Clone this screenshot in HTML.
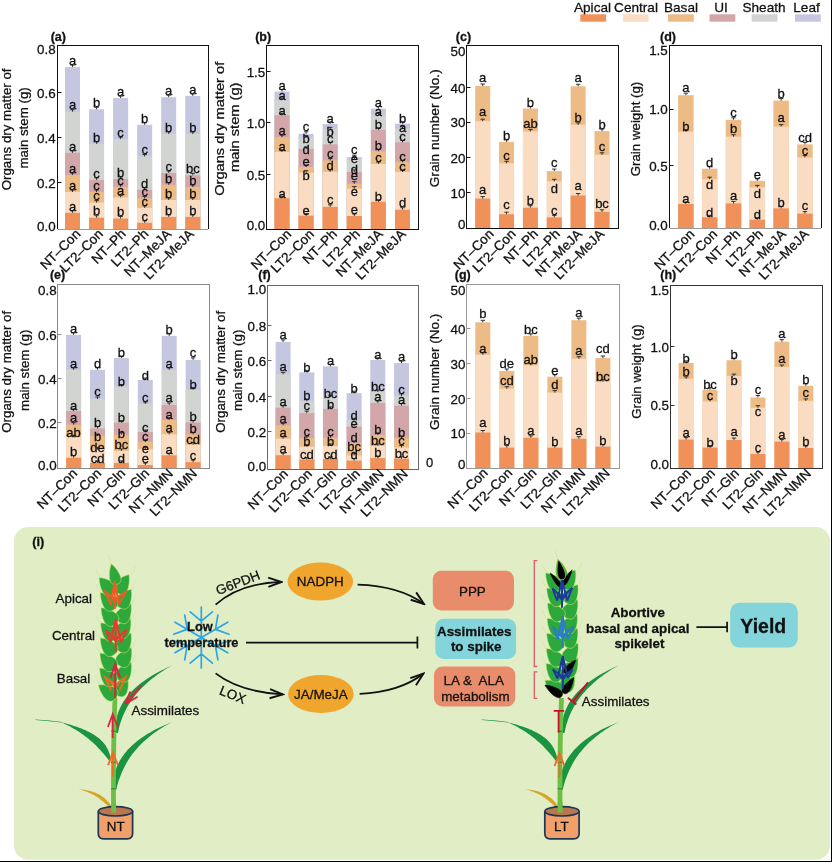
<!DOCTYPE html><html><head><meta charset="utf-8"><style>html,body{margin:0;padding:0;background:#fff;overflow:hidden}svg{display:block;will-change:transform}text{stroke:#111;stroke-width:0.28px}</style></head><body>
<svg width="832" height="862" viewBox="0 0 832 862" font-family='"Liberation Sans", sans-serif'>
<rect width="832" height="862" fill="#fff"/>
<text x="592.5" y="11.8" font-size="13.6" text-anchor="middle" fill="#111" >Apical</text>
<rect x="580.3" y="14.3" width="25.8" height="7.4" fill="#F0915A"/>
<text x="636.0" y="11.8" font-size="13.6" text-anchor="middle" fill="#111" >Central</text>
<rect x="622.8" y="14.3" width="25.8" height="7.4" fill="#FADCC2"/>
<text x="681.0" y="11.8" font-size="13.6" text-anchor="middle" fill="#111" >Basal</text>
<rect x="668" y="14.3" width="25.8" height="7.4" fill="#EDBB86"/>
<text x="721.0" y="11.8" font-size="13.6" text-anchor="middle" fill="#111" >UI</text>
<rect x="709.5" y="14.3" width="25.8" height="7.4" fill="#D3A7A9"/>
<text x="764.0" y="11.8" font-size="13.6" text-anchor="middle" fill="#111" >Sheath</text>
<rect x="751.7" y="14.3" width="25.8" height="7.4" fill="#D2D4D1"/>
<text x="806.5" y="11.8" font-size="13.6" text-anchor="middle" fill="#111" >Leaf</text>
<rect x="795" y="14.3" width="25.8" height="7.4" fill="#C5C6DF"/>
<rect x="65.00" y="67.10" width="15" height="162.10" fill="#C5C6DF"/>
<rect x="65.00" y="111.70" width="15" height="117.50" fill="#D2D4D1"/>
<rect x="65.00" y="152.80" width="15" height="76.40" fill="#D3A7A9"/>
<rect x="65.00" y="175.00" width="15" height="54.20" fill="#EDBB86"/>
<rect x="65.00" y="192.00" width="15" height="37.20" fill="#FADCC2"/>
<rect x="65.00" y="212.80" width="15" height="16.40" fill="#F0915A"/>
<path d="M70.30 210.80H74.70M72.50 210.80V212.80" stroke="#222" stroke-width="0.9" fill="none"/>
<path d="M70.30 190.00H74.70M72.50 190.00V192.00" stroke="#222" stroke-width="0.9" fill="none"/>
<path d="M70.30 173.00H74.70M72.50 173.00V175.00" stroke="#222" stroke-width="0.9" fill="none"/>
<path d="M70.30 150.80H74.70M72.50 150.80V152.80" stroke="#222" stroke-width="0.9" fill="none"/>
<path d="M70.30 109.70H74.70M72.50 109.70V111.70" stroke="#222" stroke-width="0.9" fill="none"/>
<path d="M70.30 65.10H74.70M72.50 65.10V67.10" stroke="#222" stroke-width="0.9" fill="none"/>
<text x="72.5" y="64.8" font-size="13" text-anchor="middle" fill="#111" >a</text>
<text x="72.5" y="109.4" font-size="13" text-anchor="middle" fill="#111" >a</text>
<text x="72.5" y="150.5" font-size="13" text-anchor="middle" fill="#111" >a</text>
<text x="72.5" y="172.7" font-size="13" text-anchor="middle" fill="#111" >a</text>
<text x="72.5" y="189.7" font-size="13" text-anchor="middle" fill="#111" >a</text>
<text x="72.5" y="210.5" font-size="13" text-anchor="middle" fill="#111" >a</text>
<rect x="89.05" y="109.30" width="15" height="119.90" fill="#C5C6DF"/>
<rect x="89.05" y="143.80" width="15" height="85.40" fill="#D2D4D1"/>
<rect x="89.05" y="179.90" width="15" height="49.30" fill="#D3A7A9"/>
<rect x="89.05" y="192.00" width="15" height="37.20" fill="#EDBB86"/>
<rect x="89.05" y="202.60" width="15" height="26.60" fill="#FADCC2"/>
<rect x="89.05" y="217.70" width="15" height="11.50" fill="#F0915A"/>
<path d="M94.35 215.70H98.75M96.55 215.70V217.70" stroke="#222" stroke-width="0.9" fill="none"/>
<path d="M94.35 200.60H98.75M96.55 200.60V202.60" stroke="#222" stroke-width="0.9" fill="none"/>
<path d="M94.35 190.00H98.75M96.55 190.00V192.00" stroke="#222" stroke-width="0.9" fill="none"/>
<path d="M94.35 177.90H98.75M96.55 177.90V179.90" stroke="#222" stroke-width="0.9" fill="none"/>
<path d="M94.35 141.80H98.75M96.55 141.80V143.80" stroke="#222" stroke-width="0.9" fill="none"/>
<path d="M94.35 107.30H98.75M96.55 107.30V109.30" stroke="#222" stroke-width="0.9" fill="none"/>
<text x="96.5" y="107.0" font-size="13" text-anchor="middle" fill="#111" >b</text>
<text x="96.5" y="141.5" font-size="13" text-anchor="middle" fill="#111" >b</text>
<text x="96.5" y="177.6" font-size="13" text-anchor="middle" fill="#111" >c</text>
<text x="96.5" y="189.7" font-size="13" text-anchor="middle" fill="#111" >c</text>
<text x="96.5" y="200.3" font-size="13" text-anchor="middle" fill="#111" >c</text>
<text x="96.5" y="215.4" font-size="13" text-anchor="middle" fill="#111" >b</text>
<rect x="113.10" y="98.10" width="15" height="131.10" fill="#C5C6DF"/>
<rect x="113.10" y="139.10" width="15" height="90.10" fill="#D2D4D1"/>
<rect x="113.10" y="179.00" width="15" height="50.20" fill="#D3A7A9"/>
<rect x="113.10" y="186.80" width="15" height="42.40" fill="#EDBB86"/>
<rect x="113.10" y="197.40" width="15" height="31.80" fill="#FADCC2"/>
<rect x="113.10" y="218.50" width="15" height="10.70" fill="#F0915A"/>
<path d="M118.40 216.50H122.80M120.60 216.50V218.50" stroke="#222" stroke-width="0.9" fill="none"/>
<path d="M118.40 195.40H122.80M120.60 195.40V197.40" stroke="#222" stroke-width="0.9" fill="none"/>
<path d="M118.40 184.80H122.80M120.60 184.80V186.80" stroke="#222" stroke-width="0.9" fill="none"/>
<path d="M118.40 177.00H122.80M120.60 177.00V179.00" stroke="#222" stroke-width="0.9" fill="none"/>
<path d="M118.40 137.10H122.80M120.60 137.10V139.10" stroke="#222" stroke-width="0.9" fill="none"/>
<path d="M118.40 96.10H122.80M120.60 96.10V98.10" stroke="#222" stroke-width="0.9" fill="none"/>
<text x="120.6" y="95.8" font-size="13" text-anchor="middle" fill="#111" >a</text>
<text x="120.6" y="136.8" font-size="13" text-anchor="middle" fill="#111" >c</text>
<text x="120.6" y="176.7" font-size="13" text-anchor="middle" fill="#111" >b</text>
<text x="120.6" y="184.5" font-size="13" text-anchor="middle" fill="#111" >c</text>
<text x="120.6" y="195.1" font-size="13" text-anchor="middle" fill="#111" >a</text>
<text x="120.6" y="216.2" font-size="13" text-anchor="middle" fill="#111" >b</text>
<rect x="137.15" y="124.80" width="15" height="104.40" fill="#C5C6DF"/>
<rect x="137.15" y="156.50" width="15" height="72.70" fill="#D2D4D1"/>
<rect x="137.15" y="189.80" width="15" height="39.40" fill="#D3A7A9"/>
<rect x="137.15" y="198.40" width="15" height="30.80" fill="#EDBB86"/>
<rect x="137.15" y="207.90" width="15" height="21.30" fill="#FADCC2"/>
<rect x="137.15" y="222.80" width="15" height="6.40" fill="#F0915A"/>
<path d="M142.45 220.80H146.85M144.65 220.80V222.80" stroke="#222" stroke-width="0.9" fill="none"/>
<path d="M142.45 205.90H146.85M144.65 205.90V207.90" stroke="#222" stroke-width="0.9" fill="none"/>
<path d="M142.45 196.40H146.85M144.65 196.40V198.40" stroke="#222" stroke-width="0.9" fill="none"/>
<path d="M142.45 187.80H146.85M144.65 187.80V189.80" stroke="#222" stroke-width="0.9" fill="none"/>
<path d="M142.45 154.50H146.85M144.65 154.50V156.50" stroke="#222" stroke-width="0.9" fill="none"/>
<path d="M142.45 122.80H146.85M144.65 122.80V124.80" stroke="#222" stroke-width="0.9" fill="none"/>
<text x="144.7" y="122.5" font-size="13" text-anchor="middle" fill="#111" >b</text>
<text x="144.7" y="154.2" font-size="13" text-anchor="middle" fill="#111" >c</text>
<text x="144.7" y="187.5" font-size="13" text-anchor="middle" fill="#111" >d</text>
<text x="144.7" y="196.1" font-size="13" text-anchor="middle" fill="#111" >c</text>
<text x="144.7" y="205.6" font-size="13" text-anchor="middle" fill="#111" >c</text>
<text x="144.7" y="220.5" font-size="13" text-anchor="middle" fill="#111" >c</text>
<rect x="161.20" y="97.20" width="15" height="132.00" fill="#C5C6DF"/>
<rect x="161.20" y="133.90" width="15" height="95.30" fill="#D2D4D1"/>
<rect x="161.20" y="173.00" width="15" height="56.20" fill="#D3A7A9"/>
<rect x="161.20" y="184.80" width="15" height="44.40" fill="#EDBB86"/>
<rect x="161.20" y="200.00" width="15" height="29.20" fill="#FADCC2"/>
<rect x="161.20" y="216.90" width="15" height="12.30" fill="#F0915A"/>
<path d="M166.50 214.90H170.90M168.70 214.90V216.90" stroke="#222" stroke-width="0.9" fill="none"/>
<path d="M166.50 198.00H170.90M168.70 198.00V200.00" stroke="#222" stroke-width="0.9" fill="none"/>
<path d="M166.50 182.80H170.90M168.70 182.80V184.80" stroke="#222" stroke-width="0.9" fill="none"/>
<path d="M166.50 171.00H170.90M168.70 171.00V173.00" stroke="#222" stroke-width="0.9" fill="none"/>
<path d="M166.50 131.90H170.90M168.70 131.90V133.90" stroke="#222" stroke-width="0.9" fill="none"/>
<path d="M166.50 95.20H170.90M168.70 95.20V97.20" stroke="#222" stroke-width="0.9" fill="none"/>
<text x="168.7" y="94.9" font-size="13" text-anchor="middle" fill="#111" >a</text>
<text x="168.7" y="131.6" font-size="13" text-anchor="middle" fill="#111" >b</text>
<text x="168.7" y="170.7" font-size="13" text-anchor="middle" fill="#111" >c</text>
<text x="168.7" y="182.5" font-size="13" text-anchor="middle" fill="#111" >b</text>
<text x="168.7" y="197.7" font-size="13" text-anchor="middle" fill="#111" >b</text>
<text x="168.7" y="214.6" font-size="13" text-anchor="middle" fill="#111" >b</text>
<rect x="185.25" y="95.90" width="15" height="133.30" fill="#C5C6DF"/>
<rect x="185.25" y="133.90" width="15" height="95.30" fill="#D2D4D1"/>
<rect x="185.25" y="175.30" width="15" height="53.90" fill="#D3A7A9"/>
<rect x="185.25" y="187.00" width="15" height="42.20" fill="#EDBB86"/>
<rect x="185.25" y="200.00" width="15" height="29.20" fill="#FADCC2"/>
<rect x="185.25" y="216.90" width="15" height="12.30" fill="#F0915A"/>
<path d="M190.55 214.90H194.95M192.75 214.90V216.90" stroke="#222" stroke-width="0.9" fill="none"/>
<path d="M190.55 198.00H194.95M192.75 198.00V200.00" stroke="#222" stroke-width="0.9" fill="none"/>
<path d="M190.55 185.00H194.95M192.75 185.00V187.00" stroke="#222" stroke-width="0.9" fill="none"/>
<path d="M190.55 173.30H194.95M192.75 173.30V175.30" stroke="#222" stroke-width="0.9" fill="none"/>
<path d="M190.55 131.90H194.95M192.75 131.90V133.90" stroke="#222" stroke-width="0.9" fill="none"/>
<path d="M190.55 93.90H194.95M192.75 93.90V95.90" stroke="#222" stroke-width="0.9" fill="none"/>
<text x="192.8" y="93.6" font-size="13" text-anchor="middle" fill="#111" >a</text>
<text x="192.8" y="131.6" font-size="13" text-anchor="middle" fill="#111" >b</text>
<text x="192.8" y="173.0" font-size="13" text-anchor="middle" fill="#111" >bc</text>
<text x="192.8" y="184.7" font-size="13" text-anchor="middle" fill="#111" >b</text>
<text x="192.8" y="197.7" font-size="13" text-anchor="middle" fill="#111" >b</text>
<text x="192.8" y="214.6" font-size="13" text-anchor="middle" fill="#111" >b</text>
<rect x="57.5" y="45.5" width="151.00" height="184.00" fill="none" stroke="#111" stroke-width="1"/>
<path d="M57.0 229.5H209.0" stroke="#fff" stroke-width="1"/><path d="M58.0 229.5H208.0" stroke="#9a9a9a" stroke-width="1"/>
<path d="M57.5 92.5H61.5" stroke="#111" stroke-width="1"/>
<path d="M57.5 137.5H61.5" stroke="#111" stroke-width="1"/>
<path d="M57.5 182.5H61.5" stroke="#111" stroke-width="1"/>
<text x="55.7" y="53.8" font-size="13.4" text-anchor="end" fill="#111" >0.8</text>
<text x="55.7" y="98.3" font-size="13.4" text-anchor="end" fill="#111" >0.6</text>
<text x="55.7" y="142.8" font-size="13.4" text-anchor="end" fill="#111" >0.4</text>
<text x="55.7" y="187.8" font-size="13.4" text-anchor="end" fill="#111" >0.2</text>
<text x="55.7" y="230.7" font-size="13.4" text-anchor="end" fill="#111" >0.0</text>
<text x="0" y="0" font-size="13.3" text-anchor="middle" fill="#111" transform="translate(11.3 129.4) rotate(-90) scale(1.0 1)">Organs dry matter of</text>
<text x="0" y="0" font-size="13.3" text-anchor="middle" fill="#111" transform="translate(28.3 127.9) rotate(-90) scale(1.0 1)">main stem (g)</text>
<text x="0" y="0" font-size="13.5" text-anchor="end" fill="#111" transform="translate(81.2 234.8) rotate(-45)">NT–Con</text>
<text x="0" y="0" font-size="13.5" text-anchor="end" fill="#111" transform="translate(103.9 234.8) rotate(-45)">LT2–Con</text>
<text x="0" y="0" font-size="13.5" text-anchor="end" fill="#111" transform="translate(126.6 234.8) rotate(-45)">NT–Ph</text>
<text x="0" y="0" font-size="13.5" text-anchor="end" fill="#111" transform="translate(149.3 234.8) rotate(-45)">LT2–Ph</text>
<text x="0" y="0" font-size="13.5" text-anchor="end" fill="#111" transform="translate(172.0 234.8) rotate(-45)">NT–MeJA</text>
<text x="0" y="0" font-size="13.5" text-anchor="end" fill="#111" transform="translate(194.7 234.8) rotate(-45)">LT2–MeJA</text>
<text x="58.3" y="41.3" font-size="12.5" text-anchor="middle" font-weight="bold" fill="#111" >(a)</text>
<rect x="274.50" y="91.50" width="15" height="137.50" fill="#C5C6DF"/>
<rect x="274.50" y="99.90" width="15" height="129.10" fill="#D2D4D1"/>
<rect x="274.50" y="115.30" width="15" height="113.70" fill="#D3A7A9"/>
<rect x="274.50" y="137.20" width="15" height="91.80" fill="#EDBB86"/>
<rect x="274.50" y="151.90" width="15" height="77.10" fill="#FADCC2"/>
<rect x="274.50" y="198.20" width="15" height="30.80" fill="#F0915A"/>
<path d="M279.80 196.20H284.20M282.00 196.20V198.20" stroke="#222" stroke-width="0.9" fill="none"/>
<path d="M279.80 149.90H284.20M282.00 149.90V151.90" stroke="#222" stroke-width="0.9" fill="none"/>
<path d="M279.80 135.20H284.20M282.00 135.20V137.20" stroke="#222" stroke-width="0.9" fill="none"/>
<path d="M279.80 113.30H284.20M282.00 113.30V115.30" stroke="#222" stroke-width="0.9" fill="none"/>
<path d="M279.80 97.90H284.20M282.00 97.90V99.90" stroke="#222" stroke-width="0.9" fill="none"/>
<path d="M279.80 89.50H284.20M282.00 89.50V91.50" stroke="#222" stroke-width="0.9" fill="none"/>
<text x="282.0" y="89.8" font-size="13" text-anchor="middle" fill="#111" >a</text>
<text x="282.0" y="99.5" font-size="13" text-anchor="middle" fill="#111" >a</text>
<text x="282.0" y="114.7" font-size="13" text-anchor="middle" fill="#111" >a</text>
<text x="282.0" y="135.0" font-size="13" text-anchor="middle" fill="#111" >a</text>
<text x="282.0" y="150.8" font-size="13" text-anchor="middle" fill="#111" >a</text>
<text x="282.0" y="197.5" font-size="13" text-anchor="middle" fill="#111" >a</text>
<rect x="298.60" y="133.80" width="15" height="95.20" fill="#C5C6DF"/>
<rect x="298.60" y="137.60" width="15" height="91.40" fill="#D2D4D1"/>
<rect x="298.60" y="148.90" width="15" height="80.10" fill="#D3A7A9"/>
<rect x="298.60" y="167.00" width="15" height="62.00" fill="#EDBB86"/>
<rect x="298.60" y="172.70" width="15" height="56.30" fill="#FADCC2"/>
<rect x="298.60" y="215.60" width="15" height="13.40" fill="#F0915A"/>
<path d="M303.90 213.60H308.30M306.10 213.60V215.60" stroke="#222" stroke-width="0.9" fill="none"/>
<path d="M303.90 170.70H308.30M306.10 170.70V172.70" stroke="#222" stroke-width="0.9" fill="none"/>
<path d="M303.90 165.00H308.30M306.10 165.00V167.00" stroke="#222" stroke-width="0.9" fill="none"/>
<path d="M303.90 146.90H308.30M306.10 146.90V148.90" stroke="#222" stroke-width="0.9" fill="none"/>
<path d="M303.90 135.60H308.30M306.10 135.60V137.60" stroke="#222" stroke-width="0.9" fill="none"/>
<path d="M303.90 131.80H308.30M306.10 131.80V133.80" stroke="#222" stroke-width="0.9" fill="none"/>
<text x="306.1" y="130.5" font-size="13" text-anchor="middle" fill="#111" >c</text>
<text x="306.1" y="142.8" font-size="13" text-anchor="middle" fill="#111" >b</text>
<text x="306.1" y="154.1" font-size="13" text-anchor="middle" fill="#111" >d</text>
<text x="306.1" y="165.5" font-size="13" text-anchor="middle" fill="#111" >e</text>
<text x="306.1" y="180.1" font-size="13" text-anchor="middle" fill="#111" >b</text>
<text x="306.1" y="214.5" font-size="13" text-anchor="middle" fill="#111" >e</text>
<rect x="322.70" y="124.00" width="15" height="105.00" fill="#C5C6DF"/>
<rect x="322.70" y="129.30" width="15" height="99.70" fill="#D2D4D1"/>
<rect x="322.70" y="144.40" width="15" height="84.60" fill="#D3A7A9"/>
<rect x="322.70" y="160.50" width="15" height="68.50" fill="#EDBB86"/>
<rect x="322.70" y="171.80" width="15" height="57.20" fill="#FADCC2"/>
<rect x="322.70" y="206.80" width="15" height="22.20" fill="#F0915A"/>
<path d="M328.00 204.80H332.40M330.20 204.80V206.80" stroke="#222" stroke-width="0.9" fill="none"/>
<path d="M328.00 169.80H332.40M330.20 169.80V171.80" stroke="#222" stroke-width="0.9" fill="none"/>
<path d="M328.00 158.50H332.40M330.20 158.50V160.50" stroke="#222" stroke-width="0.9" fill="none"/>
<path d="M328.00 142.40H332.40M330.20 142.40V144.40" stroke="#222" stroke-width="0.9" fill="none"/>
<path d="M328.00 127.30H332.40M330.20 127.30V129.30" stroke="#222" stroke-width="0.9" fill="none"/>
<path d="M328.00 122.00H332.40M330.20 122.00V124.00" stroke="#222" stroke-width="0.9" fill="none"/>
<text x="330.2" y="122.5" font-size="13" text-anchor="middle" fill="#111" >a</text>
<text x="330.2" y="136.0" font-size="13" text-anchor="middle" fill="#111" >b</text>
<text x="330.2" y="142.9" font-size="13" text-anchor="middle" fill="#111" >c</text>
<text x="330.2" y="158.3" font-size="13" text-anchor="middle" fill="#111" >c</text>
<text x="330.2" y="169.9" font-size="13" text-anchor="middle" fill="#111" >d</text>
<text x="330.2" y="204.0" font-size="13" text-anchor="middle" fill="#111" >c</text>
<rect x="346.80" y="157.20" width="15" height="71.80" fill="#C5C6DF"/>
<rect x="346.80" y="159.50" width="15" height="69.50" fill="#D2D4D1"/>
<rect x="346.80" y="171.90" width="15" height="57.10" fill="#D3A7A9"/>
<rect x="346.80" y="183.70" width="15" height="45.30" fill="#EDBB86"/>
<rect x="346.80" y="188.60" width="15" height="40.40" fill="#FADCC2"/>
<rect x="346.80" y="216.00" width="15" height="13.00" fill="#F0915A"/>
<path d="M352.10 214.00H356.50M354.30 214.00V216.00" stroke="#222" stroke-width="0.9" fill="none"/>
<path d="M352.10 186.60H356.50M354.30 186.60V188.60" stroke="#222" stroke-width="0.9" fill="none"/>
<path d="M352.10 181.70H356.50M354.30 181.70V183.70" stroke="#222" stroke-width="0.9" fill="none"/>
<path d="M352.10 169.90H356.50M354.30 169.90V171.90" stroke="#222" stroke-width="0.9" fill="none"/>
<path d="M352.10 157.50H356.50M354.30 157.50V159.50" stroke="#222" stroke-width="0.9" fill="none"/>
<path d="M352.10 155.20H356.50M354.30 155.20V157.20" stroke="#222" stroke-width="0.9" fill="none"/>
<text x="354.3" y="154.4" font-size="13" text-anchor="middle" fill="#111" >c</text>
<text x="354.3" y="163.4" font-size="13" text-anchor="middle" fill="#111" >e</text>
<text x="354.3" y="173.5" font-size="13" text-anchor="middle" fill="#111" >d</text>
<text x="354.3" y="180.4" font-size="13" text-anchor="middle" fill="#111" >e</text>
<text x="354.3" y="195.5" font-size="13" text-anchor="middle" fill="#111" >e</text>
<text x="354.3" y="214.3" font-size="13" text-anchor="middle" fill="#111" >e</text>
<rect x="370.90" y="108.60" width="15" height="120.40" fill="#C5C6DF"/>
<rect x="370.90" y="115.30" width="15" height="113.70" fill="#D2D4D1"/>
<rect x="370.90" y="129.80" width="15" height="99.20" fill="#D3A7A9"/>
<rect x="370.90" y="151.30" width="15" height="77.70" fill="#EDBB86"/>
<rect x="370.90" y="164.00" width="15" height="65.00" fill="#FADCC2"/>
<rect x="370.90" y="201.80" width="15" height="27.20" fill="#F0915A"/>
<path d="M376.20 199.80H380.60M378.40 199.80V201.80" stroke="#222" stroke-width="0.9" fill="none"/>
<path d="M376.20 162.00H380.60M378.40 162.00V164.00" stroke="#222" stroke-width="0.9" fill="none"/>
<path d="M376.20 149.30H380.60M378.40 149.30V151.30" stroke="#222" stroke-width="0.9" fill="none"/>
<path d="M376.20 127.80H380.60M378.40 127.80V129.80" stroke="#222" stroke-width="0.9" fill="none"/>
<path d="M376.20 113.30H380.60M378.40 113.30V115.30" stroke="#222" stroke-width="0.9" fill="none"/>
<path d="M376.20 106.60H380.60M378.40 106.60V108.60" stroke="#222" stroke-width="0.9" fill="none"/>
<text x="378.4" y="106.8" font-size="13" text-anchor="middle" fill="#111" >a</text>
<text x="378.4" y="115.5" font-size="13" text-anchor="middle" fill="#111" >a</text>
<text x="378.4" y="128.7" font-size="13" text-anchor="middle" fill="#111" >b</text>
<text x="378.4" y="150.4" font-size="13" text-anchor="middle" fill="#111" >b</text>
<text x="378.4" y="161.6" font-size="13" text-anchor="middle" fill="#111" >c</text>
<text x="378.4" y="200.6" font-size="13" text-anchor="middle" fill="#111" >b</text>
<rect x="395.00" y="123.70" width="15" height="105.30" fill="#C5C6DF"/>
<rect x="395.00" y="128.70" width="15" height="100.30" fill="#D2D4D1"/>
<rect x="395.00" y="142.30" width="15" height="86.70" fill="#D3A7A9"/>
<rect x="395.00" y="162.20" width="15" height="66.80" fill="#EDBB86"/>
<rect x="395.00" y="171.90" width="15" height="57.10" fill="#FADCC2"/>
<rect x="395.00" y="209.70" width="15" height="19.30" fill="#F0915A"/>
<path d="M400.30 207.70H404.70M402.50 207.70V209.70" stroke="#222" stroke-width="0.9" fill="none"/>
<path d="M400.30 169.90H404.70M402.50 169.90V171.90" stroke="#222" stroke-width="0.9" fill="none"/>
<path d="M400.30 160.20H404.70M402.50 160.20V162.20" stroke="#222" stroke-width="0.9" fill="none"/>
<path d="M400.30 140.30H404.70M402.50 140.30V142.30" stroke="#222" stroke-width="0.9" fill="none"/>
<path d="M400.30 126.70H404.70M402.50 126.70V128.70" stroke="#222" stroke-width="0.9" fill="none"/>
<path d="M400.30 121.70H404.70M402.50 121.70V123.70" stroke="#222" stroke-width="0.9" fill="none"/>
<text x="402.5" y="122.5" font-size="13" text-anchor="middle" fill="#111" >b</text>
<text x="402.5" y="131.7" font-size="13" text-anchor="middle" fill="#111" >a</text>
<text x="402.5" y="140.8" font-size="13" text-anchor="middle" fill="#111" >c</text>
<text x="402.5" y="161.1" font-size="13" text-anchor="middle" fill="#111" >c</text>
<text x="402.5" y="171.3" font-size="13" text-anchor="middle" fill="#111" >c</text>
<text x="402.5" y="206.9" font-size="13" text-anchor="middle" fill="#111" >d</text>
<rect x="266.5" y="45.5" width="152.00" height="184.00" fill="none" stroke="#111" stroke-width="1"/>
<path d="M266.5 71.5H270.5" stroke="#111" stroke-width="1"/>
<path d="M266.5 122.5H270.5" stroke="#111" stroke-width="1"/>
<path d="M266.5 174.5H270.5" stroke="#111" stroke-width="1"/>
<text x="265.3" y="76.7" font-size="13.4" text-anchor="end" fill="#111" >1.5</text>
<text x="265.3" y="128.2" font-size="13.4" text-anchor="end" fill="#111" >1.0</text>
<text x="265.3" y="179.5" font-size="13.4" text-anchor="end" fill="#111" >0.5</text>
<text x="265.3" y="230.4" font-size="13.4" text-anchor="end" fill="#111" >0.0</text>
<text x="0" y="0" font-size="13.3" text-anchor="middle" fill="#111" transform="translate(224.2 128.8) rotate(-90) scale(1.1 1)">Organs dry matter of</text>
<text x="0" y="0" font-size="13.3" text-anchor="middle" fill="#111" transform="translate(239.2 127.3) rotate(-90) scale(1.1 1)">main stem (g)</text>
<text x="0" y="0" font-size="13.5" text-anchor="end" fill="#111" transform="translate(292.0 235.0) rotate(-45)">NT–Con</text>
<text x="0" y="0" font-size="13.5" text-anchor="end" fill="#111" transform="translate(314.9 235.0) rotate(-45)">LT2–Con</text>
<text x="0" y="0" font-size="13.5" text-anchor="end" fill="#111" transform="translate(337.8 235.0) rotate(-45)">NT–Ph</text>
<text x="0" y="0" font-size="13.5" text-anchor="end" fill="#111" transform="translate(360.7 235.0) rotate(-45)">LT2–Ph</text>
<text x="0" y="0" font-size="13.5" text-anchor="end" fill="#111" transform="translate(383.6 235.0) rotate(-45)">NT–MeJA</text>
<text x="0" y="0" font-size="13.5" text-anchor="end" fill="#111" transform="translate(406.5 235.0) rotate(-45)">LT2–MeJA</text>
<text x="263.2" y="41.3" font-size="12.5" text-anchor="middle" font-weight="bold" fill="#111" >(b)</text>
<rect x="475.20" y="86.00" width="15" height="142.80" fill="#EDBB86"/>
<rect x="475.20" y="121.20" width="15" height="107.60" fill="#FADCC2"/>
<rect x="475.20" y="198.60" width="15" height="30.20" fill="#F0915A"/>
<path d="M480.50 196.60H484.90M482.70 196.60V198.60" stroke="#222" stroke-width="0.9" fill="none"/>
<path d="M480.50 119.20H484.90M482.70 119.20V121.20" stroke="#222" stroke-width="0.9" fill="none"/>
<path d="M480.50 84.00H484.90M482.70 84.00V86.00" stroke="#222" stroke-width="0.9" fill="none"/>
<text x="482.7" y="82.2" font-size="13" text-anchor="middle" fill="#111" >a</text>
<text x="482.7" y="115.7" font-size="13" text-anchor="middle" fill="#111" >a</text>
<text x="482.7" y="194.1" font-size="13" text-anchor="middle" fill="#111" >a</text>
<rect x="499.06" y="141.90" width="15" height="86.90" fill="#EDBB86"/>
<rect x="499.06" y="163.30" width="15" height="65.50" fill="#FADCC2"/>
<rect x="499.06" y="214.20" width="15" height="14.60" fill="#F0915A"/>
<path d="M504.36 212.20H508.76M506.56 212.20V214.20" stroke="#222" stroke-width="0.9" fill="none"/>
<path d="M504.36 161.30H508.76M506.56 161.30V163.30" stroke="#222" stroke-width="0.9" fill="none"/>
<path d="M504.36 139.90H508.76M506.56 139.90V141.90" stroke="#222" stroke-width="0.9" fill="none"/>
<text x="506.6" y="139.6" font-size="13" text-anchor="middle" fill="#111" >b</text>
<text x="506.6" y="160.0" font-size="13" text-anchor="middle" fill="#111" >c</text>
<text x="506.6" y="209.2" font-size="13" text-anchor="middle" fill="#111" >c</text>
<rect x="522.92" y="108.50" width="15" height="120.30" fill="#EDBB86"/>
<rect x="522.92" y="131.50" width="15" height="97.30" fill="#FADCC2"/>
<rect x="522.92" y="207.70" width="15" height="21.10" fill="#F0915A"/>
<path d="M528.22 205.70H532.62M530.42 205.70V207.70" stroke="#222" stroke-width="0.9" fill="none"/>
<path d="M528.22 129.50H532.62M530.42 129.50V131.50" stroke="#222" stroke-width="0.9" fill="none"/>
<path d="M528.22 106.50H532.62M530.42 106.50V108.50" stroke="#222" stroke-width="0.9" fill="none"/>
<text x="530.4" y="106.7" font-size="13" text-anchor="middle" fill="#111" >b</text>
<text x="530.4" y="127.7" font-size="13" text-anchor="middle" fill="#111" >ab</text>
<text x="530.4" y="205.0" font-size="13" text-anchor="middle" fill="#111" >b</text>
<rect x="546.78" y="171.10" width="15" height="57.70" fill="#EDBB86"/>
<rect x="546.78" y="181.30" width="15" height="47.50" fill="#FADCC2"/>
<rect x="546.78" y="217.40" width="15" height="11.40" fill="#F0915A"/>
<path d="M552.08 215.40H556.48M554.28 215.40V217.40" stroke="#222" stroke-width="0.9" fill="none"/>
<path d="M552.08 179.30H556.48M554.28 179.30V181.30" stroke="#222" stroke-width="0.9" fill="none"/>
<path d="M552.08 169.10H556.48M554.28 169.10V171.10" stroke="#222" stroke-width="0.9" fill="none"/>
<text x="554.3" y="167.4" font-size="13" text-anchor="middle" fill="#111" >c</text>
<text x="554.3" y="192.5" font-size="13" text-anchor="middle" fill="#111" >d</text>
<text x="554.3" y="214.8" font-size="13" text-anchor="middle" fill="#111" >c</text>
<rect x="570.64" y="86.30" width="15" height="142.50" fill="#EDBB86"/>
<rect x="570.64" y="124.80" width="15" height="104.00" fill="#FADCC2"/>
<rect x="570.64" y="195.50" width="15" height="33.30" fill="#F0915A"/>
<path d="M575.94 193.50H580.34M578.14 193.50V195.50" stroke="#222" stroke-width="0.9" fill="none"/>
<path d="M575.94 122.80H580.34M578.14 122.80V124.80" stroke="#222" stroke-width="0.9" fill="none"/>
<path d="M575.94 84.30H580.34M578.14 84.30V86.30" stroke="#222" stroke-width="0.9" fill="none"/>
<text x="578.1" y="82.4" font-size="13" text-anchor="middle" fill="#111" >a</text>
<text x="578.1" y="121.8" font-size="13" text-anchor="middle" fill="#111" >b</text>
<text x="578.1" y="190.4" font-size="13" text-anchor="middle" fill="#111" >a</text>
<rect x="594.50" y="131.10" width="15" height="97.70" fill="#EDBB86"/>
<rect x="594.50" y="154.80" width="15" height="74.00" fill="#FADCC2"/>
<rect x="594.50" y="211.80" width="15" height="17.00" fill="#F0915A"/>
<path d="M599.80 209.80H604.20M602.00 209.80V211.80" stroke="#222" stroke-width="0.9" fill="none"/>
<path d="M599.80 152.80H604.20M602.00 152.80V154.80" stroke="#222" stroke-width="0.9" fill="none"/>
<path d="M599.80 129.10H604.20M602.00 129.10V131.10" stroke="#222" stroke-width="0.9" fill="none"/>
<text x="602.0" y="128.6" font-size="13" text-anchor="middle" fill="#111" >b</text>
<text x="602.0" y="150.9" font-size="13" text-anchor="middle" fill="#111" >c</text>
<text x="602.0" y="208.4" font-size="13" text-anchor="middle" fill="#111" >bc</text>
<rect x="466.5" y="45.5" width="152.00" height="183.00" fill="none" stroke="#111" stroke-width="1"/>
<path d="M466.5 87.5H470.5" stroke="#111" stroke-width="1"/>
<path d="M466.5 122.5H470.5" stroke="#111" stroke-width="1"/>
<path d="M466.5 157.5H470.5" stroke="#111" stroke-width="1"/>
<path d="M466.5 192.5H470.5" stroke="#111" stroke-width="1"/>
<text x="465.4" y="55.5" font-size="13.4" text-anchor="end" fill="#111" >50</text>
<text x="465.4" y="92.5" font-size="13.4" text-anchor="end" fill="#111" >40</text>
<text x="465.4" y="127.3" font-size="13.4" text-anchor="end" fill="#111" >30</text>
<text x="465.4" y="162.6" font-size="13.4" text-anchor="end" fill="#111" >20</text>
<text x="465.4" y="197.8" font-size="13.4" text-anchor="end" fill="#111" >10</text>
<text x="465.4" y="229.4" font-size="13.4" text-anchor="end" fill="#111" >0</text>
<text x="0" y="0" font-size="13.3" text-anchor="middle" fill="#111" transform="translate(438.8 128.3) rotate(-90) scale(1.03 1)">Grain number (No.)</text>
<text x="0" y="0" font-size="13.5" text-anchor="end" fill="#111" transform="translate(494.5 234.8) rotate(-45)">NT–Con</text>
<text x="0" y="0" font-size="13.5" text-anchor="end" fill="#111" transform="translate(516.6 234.8) rotate(-45)">LT2–Con</text>
<text x="0" y="0" font-size="13.5" text-anchor="end" fill="#111" transform="translate(538.7 234.8) rotate(-45)">NT–Ph</text>
<text x="0" y="0" font-size="13.5" text-anchor="end" fill="#111" transform="translate(560.8 234.8) rotate(-45)">LT2–Ph</text>
<text x="0" y="0" font-size="13.5" text-anchor="end" fill="#111" transform="translate(582.9 234.8) rotate(-45)">NT–MeJA</text>
<text x="0" y="0" font-size="13.5" text-anchor="end" fill="#111" transform="translate(605.0 234.8) rotate(-45)">LT2–MeJA</text>
<text x="463.5" y="41.3" font-size="12.5" text-anchor="middle" font-weight="bold" fill="#111" >(c)</text>
<rect x="678.10" y="95.20" width="15.5" height="133.60" fill="#EDBB86"/>
<rect x="678.10" y="131.70" width="15.5" height="97.10" fill="#FADCC2"/>
<rect x="678.10" y="204.00" width="15.5" height="24.80" fill="#F0915A"/>
<path d="M683.65 202.00H688.05M685.85 202.00V204.00" stroke="#222" stroke-width="0.9" fill="none"/>
<path d="M683.65 129.70H688.05M685.85 129.70V131.70" stroke="#222" stroke-width="0.9" fill="none"/>
<path d="M683.65 93.20H688.05M685.85 93.20V95.20" stroke="#222" stroke-width="0.9" fill="none"/>
<text x="685.9" y="91.9" font-size="13" text-anchor="middle" fill="#111" >a</text>
<text x="685.9" y="130.6" font-size="13" text-anchor="middle" fill="#111" >b</text>
<text x="685.9" y="202.6" font-size="13" text-anchor="middle" fill="#111" >a</text>
<rect x="701.92" y="168.70" width="15.5" height="60.10" fill="#EDBB86"/>
<rect x="701.92" y="179.20" width="15.5" height="49.60" fill="#FADCC2"/>
<rect x="701.92" y="217.30" width="15.5" height="11.50" fill="#F0915A"/>
<path d="M707.47 215.30H711.87M709.67 215.30V217.30" stroke="#222" stroke-width="0.9" fill="none"/>
<path d="M707.47 177.20H711.87M709.67 177.20V179.20" stroke="#222" stroke-width="0.9" fill="none"/>
<path d="M707.47 166.70H711.87M709.67 166.70V168.70" stroke="#222" stroke-width="0.9" fill="none"/>
<text x="709.7" y="167.1" font-size="13" text-anchor="middle" fill="#111" >d</text>
<text x="709.7" y="189.0" font-size="13" text-anchor="middle" fill="#111" >d</text>
<text x="709.7" y="217.0" font-size="13" text-anchor="middle" fill="#111" >d</text>
<rect x="725.74" y="119.80" width="15.5" height="109.00" fill="#EDBB86"/>
<rect x="725.74" y="136.70" width="15.5" height="92.10" fill="#FADCC2"/>
<rect x="725.74" y="203.40" width="15.5" height="25.40" fill="#F0915A"/>
<path d="M731.29 201.40H735.69M733.49 201.40V203.40" stroke="#222" stroke-width="0.9" fill="none"/>
<path d="M731.29 134.70H735.69M733.49 134.70V136.70" stroke="#222" stroke-width="0.9" fill="none"/>
<path d="M731.29 117.80H735.69M733.49 117.80V119.80" stroke="#222" stroke-width="0.9" fill="none"/>
<text x="733.5" y="117.0" font-size="13" text-anchor="middle" fill="#111" >c</text>
<text x="733.5" y="133.3" font-size="13" text-anchor="middle" fill="#111" >b</text>
<text x="733.5" y="199.5" font-size="13" text-anchor="middle" fill="#111" >a</text>
<rect x="749.56" y="180.80" width="15.5" height="48.00" fill="#EDBB86"/>
<rect x="749.56" y="187.40" width="15.5" height="41.40" fill="#FADCC2"/>
<rect x="749.56" y="219.70" width="15.5" height="9.10" fill="#F0915A"/>
<path d="M755.11 217.70H759.51M757.31 217.70V219.70" stroke="#222" stroke-width="0.9" fill="none"/>
<path d="M755.11 185.40H759.51M757.31 185.40V187.40" stroke="#222" stroke-width="0.9" fill="none"/>
<path d="M755.11 178.80H759.51M757.31 178.80V180.80" stroke="#222" stroke-width="0.9" fill="none"/>
<text x="757.3" y="179.1" font-size="13" text-anchor="middle" fill="#111" >e</text>
<text x="757.3" y="197.8" font-size="13" text-anchor="middle" fill="#111" >d</text>
<text x="757.3" y="218.5" font-size="13" text-anchor="middle" fill="#111" >d</text>
<rect x="773.38" y="100.60" width="15.5" height="128.20" fill="#EDBB86"/>
<rect x="773.38" y="126.60" width="15.5" height="102.20" fill="#FADCC2"/>
<rect x="773.38" y="208.40" width="15.5" height="20.40" fill="#F0915A"/>
<path d="M778.93 206.40H783.33M781.13 206.40V208.40" stroke="#222" stroke-width="0.9" fill="none"/>
<path d="M778.93 124.60H783.33M781.13 124.60V126.60" stroke="#222" stroke-width="0.9" fill="none"/>
<path d="M778.93 98.60H783.33M781.13 98.60V100.60" stroke="#222" stroke-width="0.9" fill="none"/>
<text x="781.1" y="97.6" font-size="13" text-anchor="middle" fill="#111" >b</text>
<text x="781.1" y="121.5" font-size="13" text-anchor="middle" fill="#111" >a</text>
<text x="781.1" y="206.8" font-size="13" text-anchor="middle" fill="#111" >b</text>
<rect x="797.20" y="144.40" width="15.5" height="84.40" fill="#EDBB86"/>
<rect x="797.20" y="157.50" width="15.5" height="71.30" fill="#FADCC2"/>
<rect x="797.20" y="213.60" width="15.5" height="15.20" fill="#F0915A"/>
<path d="M802.75 211.60H807.15M804.95 211.60V213.60" stroke="#222" stroke-width="0.9" fill="none"/>
<path d="M802.75 155.50H807.15M804.95 155.50V157.50" stroke="#222" stroke-width="0.9" fill="none"/>
<path d="M802.75 142.40H807.15M804.95 142.40V144.40" stroke="#222" stroke-width="0.9" fill="none"/>
<text x="805.0" y="142.1" font-size="13" text-anchor="middle" fill="#111" >cd</text>
<text x="805.0" y="155.4" font-size="13" text-anchor="middle" fill="#111" >c</text>
<text x="805.0" y="210.3" font-size="13" text-anchor="middle" fill="#111" >c</text>
<rect x="669.5" y="45.5" width="152.00" height="183.00" fill="none" stroke="#111" stroke-width="1"/>
<path d="M669.0 228.5H822.0" stroke="#fff" stroke-width="1"/><path d="M670.0 228.5H821.0" stroke="#9a9a9a" stroke-width="1"/>
<path d="M669.5 109.5H673.5" stroke="#111" stroke-width="1"/>
<path d="M669.5 165.5H673.5" stroke="#111" stroke-width="1"/>
<text x="667.8" y="54.8" font-size="13.4" text-anchor="end" fill="#111" >1.5</text>
<text x="667.8" y="114.4" font-size="13.4" text-anchor="end" fill="#111" >1.0</text>
<text x="667.8" y="170.7" font-size="13.4" text-anchor="end" fill="#111" >0.5</text>
<text x="667.8" y="230.2" font-size="13.4" text-anchor="end" fill="#111" >0.0</text>
<text x="0" y="0" font-size="13.3" text-anchor="middle" fill="#111" transform="translate(639.6 129.0) rotate(-90) scale(1.0 1)">Grain weight (g)</text>
<text x="0" y="0" font-size="13.5" text-anchor="end" fill="#111" transform="translate(695.2 235.0) rotate(-45)">NT–Con</text>
<text x="0" y="0" font-size="13.5" text-anchor="end" fill="#111" transform="translate(718.1 235.0) rotate(-45)">LT2–Con</text>
<text x="0" y="0" font-size="13.5" text-anchor="end" fill="#111" transform="translate(741.0 235.0) rotate(-45)">NT–Ph</text>
<text x="0" y="0" font-size="13.5" text-anchor="end" fill="#111" transform="translate(763.9 235.0) rotate(-45)">LT2–Ph</text>
<text x="0" y="0" font-size="13.5" text-anchor="end" fill="#111" transform="translate(786.8 235.0) rotate(-45)">NT–MeJA</text>
<text x="0" y="0" font-size="13.5" text-anchor="end" fill="#111" transform="translate(809.7 235.0) rotate(-45)">LT2–MeJA</text>
<text x="668.0" y="41.3" font-size="12.5" text-anchor="middle" font-weight="bold" fill="#111" >(d)</text>
<rect x="66.10" y="334.90" width="15" height="133.90" fill="#C5C6DF"/>
<rect x="66.10" y="369.80" width="15" height="99.00" fill="#D2D4D1"/>
<rect x="66.10" y="411.00" width="15" height="57.80" fill="#D3A7A9"/>
<rect x="66.10" y="424.70" width="15" height="44.10" fill="#EDBB86"/>
<rect x="66.10" y="437.20" width="15" height="31.60" fill="#FADCC2"/>
<rect x="66.10" y="457.70" width="15" height="11.10" fill="#F0915A"/>
<path d="M71.40 455.70H75.80M73.60 455.70V457.70" stroke="#222" stroke-width="0.9" fill="none"/>
<path d="M71.40 435.20H75.80M73.60 435.20V437.20" stroke="#222" stroke-width="0.9" fill="none"/>
<path d="M71.40 422.70H75.80M73.60 422.70V424.70" stroke="#222" stroke-width="0.9" fill="none"/>
<path d="M71.40 409.00H75.80M73.60 409.00V411.00" stroke="#222" stroke-width="0.9" fill="none"/>
<path d="M71.40 367.80H75.80M73.60 367.80V369.80" stroke="#222" stroke-width="0.9" fill="none"/>
<path d="M71.40 332.90H75.80M73.60 332.90V334.90" stroke="#222" stroke-width="0.9" fill="none"/>
<text x="73.6" y="332.9" font-size="13" text-anchor="middle" fill="#111" >a</text>
<text x="73.6" y="367.8" font-size="13" text-anchor="middle" fill="#111" >a</text>
<text x="73.6" y="409.5" font-size="13" text-anchor="middle" fill="#111" >a</text>
<text x="73.6" y="422.0" font-size="13" text-anchor="middle" fill="#111" >a</text>
<text x="73.6" y="436.7" font-size="13" text-anchor="middle" fill="#111" >ab</text>
<text x="73.6" y="456.2" font-size="13" text-anchor="middle" fill="#111" >b</text>
<rect x="90.00" y="369.80" width="15" height="99.00" fill="#C5C6DF"/>
<rect x="90.00" y="399.00" width="15" height="69.80" fill="#D2D4D1"/>
<rect x="90.00" y="428.50" width="15" height="40.30" fill="#D3A7A9"/>
<rect x="90.00" y="436.00" width="15" height="32.80" fill="#EDBB86"/>
<rect x="90.00" y="449.70" width="15" height="19.10" fill="#FADCC2"/>
<rect x="90.00" y="462.90" width="15" height="5.90" fill="#F0915A"/>
<path d="M95.30 460.90H99.70M97.50 460.90V462.90" stroke="#222" stroke-width="0.9" fill="none"/>
<path d="M95.30 447.70H99.70M97.50 447.70V449.70" stroke="#222" stroke-width="0.9" fill="none"/>
<path d="M95.30 434.00H99.70M97.50 434.00V436.00" stroke="#222" stroke-width="0.9" fill="none"/>
<path d="M95.30 426.50H99.70M97.50 426.50V428.50" stroke="#222" stroke-width="0.9" fill="none"/>
<path d="M95.30 397.00H99.70M97.50 397.00V399.00" stroke="#222" stroke-width="0.9" fill="none"/>
<path d="M95.30 367.80H99.70M97.50 367.80V369.80" stroke="#222" stroke-width="0.9" fill="none"/>
<text x="97.5" y="368.1" font-size="13" text-anchor="middle" fill="#111" >d</text>
<text x="97.5" y="395.8" font-size="13" text-anchor="middle" fill="#111" >c</text>
<text x="97.5" y="427.2" font-size="13" text-anchor="middle" fill="#111" >b</text>
<text x="97.5" y="440.5" font-size="13" text-anchor="middle" fill="#111" >b</text>
<text x="97.5" y="451.7" font-size="13" text-anchor="middle" fill="#111" >de</text>
<text x="97.5" y="462.9" font-size="13" text-anchor="middle" fill="#111" >cd</text>
<rect x="113.90" y="358.10" width="15" height="110.70" fill="#C5C6DF"/>
<rect x="113.90" y="386.50" width="15" height="82.30" fill="#D2D4D1"/>
<rect x="113.90" y="422.70" width="15" height="46.10" fill="#D3A7A9"/>
<rect x="113.90" y="434.70" width="15" height="34.10" fill="#EDBB86"/>
<rect x="113.90" y="450.90" width="15" height="17.90" fill="#FADCC2"/>
<rect x="113.90" y="462.90" width="15" height="5.90" fill="#F0915A"/>
<path d="M119.20 460.90H123.60M121.40 460.90V462.90" stroke="#222" stroke-width="0.9" fill="none"/>
<path d="M119.20 448.90H123.60M121.40 448.90V450.90" stroke="#222" stroke-width="0.9" fill="none"/>
<path d="M119.20 432.70H123.60M121.40 432.70V434.70" stroke="#222" stroke-width="0.9" fill="none"/>
<path d="M119.20 420.70H123.60M121.40 420.70V422.70" stroke="#222" stroke-width="0.9" fill="none"/>
<path d="M119.20 384.50H123.60M121.40 384.50V386.50" stroke="#222" stroke-width="0.9" fill="none"/>
<path d="M119.20 356.10H123.60M121.40 356.10V358.10" stroke="#222" stroke-width="0.9" fill="none"/>
<text x="121.4" y="357.3" font-size="13" text-anchor="middle" fill="#111" >b</text>
<text x="121.4" y="385.5" font-size="13" text-anchor="middle" fill="#111" >b</text>
<text x="121.4" y="422.2" font-size="13" text-anchor="middle" fill="#111" >b</text>
<text x="121.4" y="438.0" font-size="13" text-anchor="middle" fill="#111" >b</text>
<text x="121.4" y="449.2" font-size="13" text-anchor="middle" fill="#111" >bc</text>
<text x="121.4" y="462.9" font-size="13" text-anchor="middle" fill="#111" >d</text>
<rect x="137.80" y="380.00" width="15" height="88.80" fill="#C5C6DF"/>
<rect x="137.80" y="404.00" width="15" height="64.80" fill="#D2D4D1"/>
<rect x="137.80" y="432.00" width="15" height="36.80" fill="#D3A7A9"/>
<rect x="137.80" y="441.80" width="15" height="27.00" fill="#EDBB86"/>
<rect x="137.80" y="449.20" width="15" height="19.60" fill="#FADCC2"/>
<rect x="137.80" y="465.00" width="15" height="3.80" fill="#F0915A"/>
<path d="M143.10 463.00H147.50M145.30 463.00V465.00" stroke="#222" stroke-width="0.9" fill="none"/>
<path d="M143.10 447.20H147.50M145.30 447.20V449.20" stroke="#222" stroke-width="0.9" fill="none"/>
<path d="M143.10 439.80H147.50M145.30 439.80V441.80" stroke="#222" stroke-width="0.9" fill="none"/>
<path d="M143.10 430.00H147.50M145.30 430.00V432.00" stroke="#222" stroke-width="0.9" fill="none"/>
<path d="M143.10 402.00H147.50M145.30 402.00V404.00" stroke="#222" stroke-width="0.9" fill="none"/>
<path d="M143.10 378.00H147.50M145.30 378.00V380.00" stroke="#222" stroke-width="0.9" fill="none"/>
<text x="145.3" y="379.5" font-size="13" text-anchor="middle" fill="#111" >d</text>
<text x="145.3" y="402.3" font-size="13" text-anchor="middle" fill="#111" >c</text>
<text x="145.3" y="431.7" font-size="13" text-anchor="middle" fill="#111" >c</text>
<text x="145.3" y="440.7" font-size="13" text-anchor="middle" fill="#111" >c</text>
<text x="145.3" y="453.2" font-size="13" text-anchor="middle" fill="#111" >e</text>
<text x="145.3" y="463.4" font-size="13" text-anchor="middle" fill="#111" >e</text>
<rect x="161.70" y="335.90" width="15" height="132.90" fill="#C5C6DF"/>
<rect x="161.70" y="369.80" width="15" height="99.00" fill="#D2D4D1"/>
<rect x="161.70" y="404.90" width="15" height="63.90" fill="#D3A7A9"/>
<rect x="161.70" y="419.80" width="15" height="49.00" fill="#EDBB86"/>
<rect x="161.70" y="434.30" width="15" height="34.50" fill="#FADCC2"/>
<rect x="161.70" y="455.30" width="15" height="13.50" fill="#F0915A"/>
<path d="M167.00 453.30H171.40M169.20 453.30V455.30" stroke="#222" stroke-width="0.9" fill="none"/>
<path d="M167.00 432.30H171.40M169.20 432.30V434.30" stroke="#222" stroke-width="0.9" fill="none"/>
<path d="M167.00 417.80H171.40M169.20 417.80V419.80" stroke="#222" stroke-width="0.9" fill="none"/>
<path d="M167.00 402.90H171.40M169.20 402.90V404.90" stroke="#222" stroke-width="0.9" fill="none"/>
<path d="M167.00 367.80H171.40M169.20 367.80V369.80" stroke="#222" stroke-width="0.9" fill="none"/>
<path d="M167.00 333.90H171.40M169.20 333.90V335.90" stroke="#222" stroke-width="0.9" fill="none"/>
<text x="169.2" y="334.3" font-size="13" text-anchor="middle" fill="#111" >b</text>
<text x="169.2" y="368.3" font-size="13" text-anchor="middle" fill="#111" >a</text>
<text x="169.2" y="402.3" font-size="13" text-anchor="middle" fill="#111" >a</text>
<text x="169.2" y="418.8" font-size="13" text-anchor="middle" fill="#111" >a</text>
<text x="169.2" y="431.7" font-size="13" text-anchor="middle" fill="#111" >a</text>
<text x="169.2" y="454.3" font-size="13" text-anchor="middle" fill="#111" >a</text>
<rect x="185.60" y="359.90" width="15" height="108.90" fill="#C5C6DF"/>
<rect x="185.60" y="389.70" width="15" height="79.10" fill="#D2D4D1"/>
<rect x="185.60" y="422.50" width="15" height="46.30" fill="#D3A7A9"/>
<rect x="185.60" y="434.30" width="15" height="34.50" fill="#EDBB86"/>
<rect x="185.60" y="444.70" width="15" height="24.10" fill="#FADCC2"/>
<rect x="185.60" y="462.10" width="15" height="6.70" fill="#F0915A"/>
<path d="M190.90 460.10H195.30M193.10 460.10V462.10" stroke="#222" stroke-width="0.9" fill="none"/>
<path d="M190.90 442.70H195.30M193.10 442.70V444.70" stroke="#222" stroke-width="0.9" fill="none"/>
<path d="M190.90 432.30H195.30M193.10 432.30V434.30" stroke="#222" stroke-width="0.9" fill="none"/>
<path d="M190.90 420.50H195.30M193.10 420.50V422.50" stroke="#222" stroke-width="0.9" fill="none"/>
<path d="M190.90 387.70H195.30M193.10 387.70V389.70" stroke="#222" stroke-width="0.9" fill="none"/>
<path d="M190.90 357.90H195.30M193.10 357.90V359.90" stroke="#222" stroke-width="0.9" fill="none"/>
<text x="193.1" y="357.0" font-size="13" text-anchor="middle" fill="#111" >c</text>
<text x="193.1" y="388.6" font-size="13" text-anchor="middle" fill="#111" >b</text>
<text x="193.1" y="421.4" font-size="13" text-anchor="middle" fill="#111" >b</text>
<text x="193.1" y="433.4" font-size="13" text-anchor="middle" fill="#111" >b</text>
<text x="193.1" y="444.0" font-size="13" text-anchor="middle" fill="#111" >cd</text>
<text x="193.1" y="460.0" font-size="13" text-anchor="middle" fill="#111" >c</text>
<rect x="57.5" y="284.5" width="152.00" height="184.00" fill="none" stroke="#8a8a8a" stroke-width="1"/>
<path d="M57.5 334.5H61.5" stroke="#8a8a8a" stroke-width="1"/>
<path d="M57.5 378.5H61.5" stroke="#8a8a8a" stroke-width="1"/>
<path d="M57.5 422.5H61.5" stroke="#8a8a8a" stroke-width="1"/>
<text x="56.6" y="294.8" font-size="13.4" text-anchor="end" fill="#111" >0.8</text>
<text x="56.6" y="339.7" font-size="13.4" text-anchor="end" fill="#111" >0.6</text>
<text x="56.6" y="383.9" font-size="13.4" text-anchor="end" fill="#111" >0.4</text>
<text x="56.6" y="428.0" font-size="13.4" text-anchor="end" fill="#111" >0.2</text>
<text x="56.6" y="469.5" font-size="13.4" text-anchor="end" fill="#111" >0.0</text>
<text x="0" y="0" font-size="13.3" text-anchor="middle" fill="#111" transform="translate(11.3 371.8) rotate(-90) scale(1.0 1)">Organs dry matter of</text>
<text x="0" y="0" font-size="13.3" text-anchor="middle" fill="#111" transform="translate(28.8 370.3) rotate(-90) scale(1.0 1)">main stem (g)</text>
<text x="0" y="0" font-size="13.5" text-anchor="end" fill="#111" transform="translate(78.0 474.3) rotate(-45)">NT–Con</text>
<text x="0" y="0" font-size="13.5" text-anchor="end" fill="#111" transform="translate(102.0 474.3) rotate(-45)">LT2–Con</text>
<text x="0" y="0" font-size="13.5" text-anchor="end" fill="#111" transform="translate(126.0 474.3) rotate(-45)">NT–Gln</text>
<text x="0" y="0" font-size="13.5" text-anchor="end" fill="#111" transform="translate(150.0 474.3) rotate(-45)">LT2–Gln</text>
<text x="0" y="0" font-size="13.5" text-anchor="end" fill="#111" transform="translate(174.0 474.3) rotate(-45)">NT–NMN</text>
<text x="0" y="0" font-size="13.5" text-anchor="end" fill="#111" transform="translate(198.0 474.3) rotate(-45)">LT2–NMN</text>
<text x="57.6" y="278.6" font-size="12.5" text-anchor="middle" font-weight="bold" fill="#111" >(e)</text>
<rect x="275.60" y="341.90" width="15" height="127.10" fill="#C5C6DF"/>
<rect x="275.60" y="374.30" width="15" height="94.70" fill="#D2D4D1"/>
<rect x="275.60" y="407.70" width="15" height="61.30" fill="#D3A7A9"/>
<rect x="275.60" y="425.30" width="15" height="43.70" fill="#EDBB86"/>
<rect x="275.60" y="438.70" width="15" height="30.30" fill="#FADCC2"/>
<rect x="275.60" y="455.20" width="15" height="13.80" fill="#F0915A"/>
<path d="M280.90 453.20H285.30M283.10 453.20V455.20" stroke="#222" stroke-width="0.9" fill="none"/>
<path d="M280.90 436.70H285.30M283.10 436.70V438.70" stroke="#222" stroke-width="0.9" fill="none"/>
<path d="M280.90 423.30H285.30M283.10 423.30V425.30" stroke="#222" stroke-width="0.9" fill="none"/>
<path d="M280.90 405.70H285.30M283.10 405.70V407.70" stroke="#222" stroke-width="0.9" fill="none"/>
<path d="M280.90 372.30H285.30M283.10 372.30V374.30" stroke="#222" stroke-width="0.9" fill="none"/>
<path d="M280.90 339.90H285.30M283.10 339.90V341.90" stroke="#222" stroke-width="0.9" fill="none"/>
<text x="283.1" y="338.8" font-size="13" text-anchor="middle" fill="#111" >a</text>
<text x="283.1" y="371.0" font-size="13" text-anchor="middle" fill="#111" >a</text>
<text x="283.1" y="406.3" font-size="13" text-anchor="middle" fill="#111" >a</text>
<text x="283.1" y="423.4" font-size="13" text-anchor="middle" fill="#111" >a</text>
<text x="283.1" y="436.8" font-size="13" text-anchor="middle" fill="#111" >a</text>
<text x="283.1" y="453.4" font-size="13" text-anchor="middle" fill="#111" >a</text>
<rect x="299.28" y="372.40" width="15" height="96.60" fill="#C5C6DF"/>
<rect x="299.28" y="401.10" width="15" height="67.90" fill="#D2D4D1"/>
<rect x="299.28" y="413.10" width="15" height="55.90" fill="#D3A7A9"/>
<rect x="299.28" y="438.20" width="15" height="30.80" fill="#EDBB86"/>
<rect x="299.28" y="446.70" width="15" height="22.30" fill="#FADCC2"/>
<rect x="299.28" y="459.60" width="15" height="9.40" fill="#F0915A"/>
<path d="M304.58 457.60H308.98M306.78 457.60V459.60" stroke="#222" stroke-width="0.9" fill="none"/>
<path d="M304.58 444.70H308.98M306.78 444.70V446.70" stroke="#222" stroke-width="0.9" fill="none"/>
<path d="M304.58 436.20H308.98M306.78 436.20V438.20" stroke="#222" stroke-width="0.9" fill="none"/>
<path d="M304.58 411.10H308.98M306.78 411.10V413.10" stroke="#222" stroke-width="0.9" fill="none"/>
<path d="M304.58 399.10H308.98M306.78 399.10V401.10" stroke="#222" stroke-width="0.9" fill="none"/>
<path d="M304.58 370.40H308.98M306.78 370.40V372.40" stroke="#222" stroke-width="0.9" fill="none"/>
<text x="306.8" y="371.5" font-size="13" text-anchor="middle" fill="#111" >b</text>
<text x="306.8" y="400.0" font-size="13" text-anchor="middle" fill="#111" >b</text>
<text x="306.8" y="410.0" font-size="13" text-anchor="middle" fill="#111" >c</text>
<text x="306.8" y="435.6" font-size="13" text-anchor="middle" fill="#111" >c</text>
<text x="306.8" y="446.3" font-size="13" text-anchor="middle" fill="#111" >b</text>
<text x="306.8" y="458.5" font-size="13" text-anchor="middle" fill="#111" >cd</text>
<rect x="322.96" y="366.30" width="15" height="102.70" fill="#C5C6DF"/>
<rect x="322.96" y="397.20" width="15" height="71.80" fill="#D2D4D1"/>
<rect x="322.96" y="408.90" width="15" height="60.10" fill="#D3A7A9"/>
<rect x="322.96" y="437.70" width="15" height="31.30" fill="#EDBB86"/>
<rect x="322.96" y="446.00" width="15" height="23.00" fill="#FADCC2"/>
<rect x="322.96" y="458.90" width="15" height="10.10" fill="#F0915A"/>
<path d="M328.26 456.90H332.66M330.46 456.90V458.90" stroke="#222" stroke-width="0.9" fill="none"/>
<path d="M328.26 444.00H332.66M330.46 444.00V446.00" stroke="#222" stroke-width="0.9" fill="none"/>
<path d="M328.26 435.70H332.66M330.46 435.70V437.70" stroke="#222" stroke-width="0.9" fill="none"/>
<path d="M328.26 406.90H332.66M330.46 406.90V408.90" stroke="#222" stroke-width="0.9" fill="none"/>
<path d="M328.26 395.20H332.66M330.46 395.20V397.20" stroke="#222" stroke-width="0.9" fill="none"/>
<path d="M328.26 364.30H332.66M330.46 364.30V366.30" stroke="#222" stroke-width="0.9" fill="none"/>
<text x="330.5" y="364.9" font-size="13" text-anchor="middle" fill="#111" >a</text>
<text x="330.5" y="397.6" font-size="13" text-anchor="middle" fill="#111" >bc</text>
<text x="330.5" y="408.5" font-size="13" text-anchor="middle" fill="#111" >b</text>
<text x="330.5" y="435.6" font-size="13" text-anchor="middle" fill="#111" >c</text>
<text x="330.5" y="446.3" font-size="13" text-anchor="middle" fill="#111" >b</text>
<text x="330.5" y="458.5" font-size="13" text-anchor="middle" fill="#111" >cd</text>
<rect x="346.64" y="393.20" width="15" height="75.80" fill="#C5C6DF"/>
<rect x="346.64" y="420.30" width="15" height="48.70" fill="#D2D4D1"/>
<rect x="346.64" y="426.70" width="15" height="42.30" fill="#D3A7A9"/>
<rect x="346.64" y="443.00" width="15" height="26.00" fill="#EDBB86"/>
<rect x="346.64" y="455.40" width="15" height="13.60" fill="#FADCC2"/>
<rect x="346.64" y="460.60" width="15" height="8.40" fill="#F0915A"/>
<path d="M351.94 458.60H356.34M354.14 458.60V460.60" stroke="#222" stroke-width="0.9" fill="none"/>
<path d="M351.94 453.40H356.34M354.14 453.40V455.40" stroke="#222" stroke-width="0.9" fill="none"/>
<path d="M351.94 441.00H356.34M354.14 441.00V443.00" stroke="#222" stroke-width="0.9" fill="none"/>
<path d="M351.94 424.70H356.34M354.14 424.70V426.70" stroke="#222" stroke-width="0.9" fill="none"/>
<path d="M351.94 418.30H356.34M354.14 418.30V420.30" stroke="#222" stroke-width="0.9" fill="none"/>
<path d="M351.94 391.20H356.34M354.14 391.20V393.20" stroke="#222" stroke-width="0.9" fill="none"/>
<text x="354.1" y="392.7" font-size="13" text-anchor="middle" fill="#111" >b</text>
<text x="354.1" y="419.6" font-size="13" text-anchor="middle" fill="#111" >d</text>
<text x="354.1" y="428.4" font-size="13" text-anchor="middle" fill="#111" >e</text>
<text x="354.1" y="441.8" font-size="13" text-anchor="middle" fill="#111" >d</text>
<text x="354.1" y="450.9" font-size="13" text-anchor="middle" fill="#111" >bc</text>
<text x="354.1" y="459.2" font-size="13" text-anchor="middle" fill="#111" >d</text>
<rect x="370.32" y="359.90" width="15" height="109.10" fill="#C5C6DF"/>
<rect x="370.32" y="392.00" width="15" height="77.00" fill="#D2D4D1"/>
<rect x="370.32" y="402.90" width="15" height="66.10" fill="#D3A7A9"/>
<rect x="370.32" y="435.00" width="15" height="34.00" fill="#EDBB86"/>
<rect x="370.32" y="445.90" width="15" height="23.10" fill="#FADCC2"/>
<rect x="370.32" y="458.10" width="15" height="10.90" fill="#F0915A"/>
<path d="M375.62 456.10H380.02M377.82 456.10V458.10" stroke="#222" stroke-width="0.9" fill="none"/>
<path d="M375.62 443.90H380.02M377.82 443.90V445.90" stroke="#222" stroke-width="0.9" fill="none"/>
<path d="M375.62 433.00H380.02M377.82 433.00V435.00" stroke="#222" stroke-width="0.9" fill="none"/>
<path d="M375.62 400.90H380.02M377.82 400.90V402.90" stroke="#222" stroke-width="0.9" fill="none"/>
<path d="M375.62 390.00H380.02M377.82 390.00V392.00" stroke="#222" stroke-width="0.9" fill="none"/>
<path d="M375.62 357.90H380.02M377.82 357.90V359.90" stroke="#222" stroke-width="0.9" fill="none"/>
<text x="377.8" y="359.3" font-size="13" text-anchor="middle" fill="#111" >a</text>
<text x="377.8" y="390.9" font-size="13" text-anchor="middle" fill="#111" >bc</text>
<text x="377.8" y="400.7" font-size="13" text-anchor="middle" fill="#111" >a</text>
<text x="377.8" y="434.3" font-size="13" text-anchor="middle" fill="#111" >b</text>
<text x="377.8" y="445.2" font-size="13" text-anchor="middle" fill="#111" >bc</text>
<text x="377.8" y="457.0" font-size="13" text-anchor="middle" fill="#111" >b</text>
<rect x="394.00" y="363.10" width="15" height="105.90" fill="#C5C6DF"/>
<rect x="394.00" y="395.90" width="15" height="73.10" fill="#D2D4D1"/>
<rect x="394.00" y="405.60" width="15" height="63.40" fill="#D3A7A9"/>
<rect x="394.00" y="438.00" width="15" height="31.00" fill="#EDBB86"/>
<rect x="394.00" y="447.50" width="15" height="21.50" fill="#FADCC2"/>
<rect x="394.00" y="458.80" width="15" height="10.20" fill="#F0915A"/>
<path d="M399.30 456.80H403.70M401.50 456.80V458.80" stroke="#222" stroke-width="0.9" fill="none"/>
<path d="M399.30 445.50H403.70M401.50 445.50V447.50" stroke="#222" stroke-width="0.9" fill="none"/>
<path d="M399.30 436.00H403.70M401.50 436.00V438.00" stroke="#222" stroke-width="0.9" fill="none"/>
<path d="M399.30 403.60H403.70M401.50 403.60V405.60" stroke="#222" stroke-width="0.9" fill="none"/>
<path d="M399.30 393.90H403.70M401.50 393.90V395.90" stroke="#222" stroke-width="0.9" fill="none"/>
<path d="M399.30 361.10H403.70M401.50 361.10V363.10" stroke="#222" stroke-width="0.9" fill="none"/>
<text x="401.5" y="360.5" font-size="13" text-anchor="middle" fill="#111" >a</text>
<text x="401.5" y="394.0" font-size="13" text-anchor="middle" fill="#111" >c</text>
<text x="401.5" y="404.1" font-size="13" text-anchor="middle" fill="#111" >a</text>
<text x="401.5" y="437.3" font-size="13" text-anchor="middle" fill="#111" >b</text>
<text x="401.5" y="445.3" font-size="13" text-anchor="middle" fill="#111" >c</text>
<text x="401.5" y="458.3" font-size="13" text-anchor="middle" fill="#111" >bc</text>
<rect x="267.5" y="285.5" width="151.00" height="184.00" fill="none" stroke="#666" stroke-width="1"/>
<path d="M267.5 325.5H271.5" stroke="#666" stroke-width="1"/>
<path d="M267.5 360.5H271.5" stroke="#666" stroke-width="1"/>
<path d="M267.5 396.5H271.5" stroke="#666" stroke-width="1"/>
<path d="M267.5 431.5H271.5" stroke="#666" stroke-width="1"/>
<text x="266.2" y="293.8" font-size="13.4" text-anchor="end" fill="#111" >1.0</text>
<text x="266.2" y="330.9" font-size="13.4" text-anchor="end" fill="#111" >0.8</text>
<text x="266.2" y="366.2" font-size="13.4" text-anchor="end" fill="#111" >0.6</text>
<text x="266.2" y="401.5" font-size="13.4" text-anchor="end" fill="#111" >0.4</text>
<text x="266.2" y="436.9" font-size="13.4" text-anchor="end" fill="#111" >0.2</text>
<text x="266.2" y="470.8" font-size="13.4" text-anchor="end" fill="#111" >0.0</text>
<text x="0" y="0" font-size="13.3" text-anchor="middle" fill="#111" transform="translate(224.5 371.8) rotate(-90) scale(1.0 1)">Organs dry matter of</text>
<text x="0" y="0" font-size="13.3" text-anchor="middle" fill="#111" transform="translate(241.6 370.3) rotate(-90) scale(1.0 1)">main stem (g)</text>
<text x="0" y="0" font-size="13.5" text-anchor="end" fill="#111" transform="translate(288.7 474.6) rotate(-45)">NT–Con</text>
<text x="0" y="0" font-size="13.5" text-anchor="end" fill="#111" transform="translate(312.7 474.6) rotate(-45)">LT2–Con</text>
<text x="0" y="0" font-size="13.5" text-anchor="end" fill="#111" transform="translate(336.7 474.6) rotate(-45)">NT–Gln</text>
<text x="0" y="0" font-size="13.5" text-anchor="end" fill="#111" transform="translate(360.7 474.6) rotate(-45)">LT2–Gln</text>
<text x="0" y="0" font-size="13.5" text-anchor="end" fill="#111" transform="translate(384.7 474.6) rotate(-45)">NT–NMN</text>
<text x="0" y="0" font-size="13.5" text-anchor="end" fill="#111" transform="translate(408.7 474.6) rotate(-45)">LT2–NMN</text>
<text x="264.5" y="279.0" font-size="12.5" text-anchor="middle" font-weight="bold" fill="#111" >(f)</text>
<rect x="475.30" y="322.30" width="15" height="146.00" fill="#EDBB86"/>
<rect x="475.30" y="354.70" width="15" height="113.60" fill="#FADCC2"/>
<rect x="475.30" y="432.50" width="15" height="35.80" fill="#F0915A"/>
<path d="M480.60 430.50H485.00M482.80 430.50V432.50" stroke="#222" stroke-width="0.9" fill="none"/>
<path d="M480.60 352.70H485.00M482.80 352.70V354.70" stroke="#222" stroke-width="0.9" fill="none"/>
<path d="M480.60 320.30H485.00M482.80 320.30V322.30" stroke="#222" stroke-width="0.9" fill="none"/>
<text x="482.8" y="318.3" font-size="13" text-anchor="middle" fill="#111" >b</text>
<text x="482.8" y="352.6" font-size="13" text-anchor="middle" fill="#111" >a</text>
<text x="482.8" y="427.3" font-size="13" text-anchor="middle" fill="#111" >a</text>
<rect x="499.32" y="371.00" width="15" height="97.30" fill="#EDBB86"/>
<rect x="499.32" y="388.70" width="15" height="79.60" fill="#FADCC2"/>
<rect x="499.32" y="447.60" width="15" height="20.70" fill="#F0915A"/>
<path d="M504.62 445.60H509.02M506.82 445.60V447.60" stroke="#222" stroke-width="0.9" fill="none"/>
<path d="M504.62 386.70H509.02M506.82 386.70V388.70" stroke="#222" stroke-width="0.9" fill="none"/>
<path d="M504.62 369.00H509.02M506.82 369.00V371.00" stroke="#222" stroke-width="0.9" fill="none"/>
<text x="506.8" y="368.2" font-size="13" text-anchor="middle" fill="#111" >de</text>
<text x="506.8" y="385.2" font-size="13" text-anchor="middle" fill="#111" >cd</text>
<text x="506.8" y="444.8" font-size="13" text-anchor="middle" fill="#111" >b</text>
<rect x="523.34" y="335.80" width="15" height="132.50" fill="#EDBB86"/>
<rect x="523.34" y="365.40" width="15" height="102.90" fill="#FADCC2"/>
<rect x="523.34" y="437.80" width="15" height="30.50" fill="#F0915A"/>
<path d="M528.64 435.80H533.04M530.84 435.80V437.80" stroke="#222" stroke-width="0.9" fill="none"/>
<path d="M528.64 363.40H533.04M530.84 363.40V365.40" stroke="#222" stroke-width="0.9" fill="none"/>
<path d="M528.64 333.80H533.04M530.84 333.80V335.80" stroke="#222" stroke-width="0.9" fill="none"/>
<text x="530.8" y="334.2" font-size="13" text-anchor="middle" fill="#111" >bc</text>
<text x="530.8" y="363.6" font-size="13" text-anchor="middle" fill="#111" >ab</text>
<text x="530.8" y="434.5" font-size="13" text-anchor="middle" fill="#111" >a</text>
<rect x="547.36" y="376.70" width="15" height="91.60" fill="#EDBB86"/>
<rect x="547.36" y="392.60" width="15" height="75.70" fill="#FADCC2"/>
<rect x="547.36" y="447.70" width="15" height="20.60" fill="#F0915A"/>
<path d="M552.66 445.70H557.06M554.86 445.70V447.70" stroke="#222" stroke-width="0.9" fill="none"/>
<path d="M552.66 390.60H557.06M554.86 390.60V392.60" stroke="#222" stroke-width="0.9" fill="none"/>
<path d="M552.66 374.70H557.06M554.86 374.70V376.70" stroke="#222" stroke-width="0.9" fill="none"/>
<text x="554.9" y="375.0" font-size="13" text-anchor="middle" fill="#111" >e</text>
<text x="554.9" y="388.5" font-size="13" text-anchor="middle" fill="#111" >d</text>
<text x="554.9" y="446.1" font-size="13" text-anchor="middle" fill="#111" >b</text>
<rect x="571.38" y="320.20" width="15" height="148.10" fill="#EDBB86"/>
<rect x="571.38" y="358.70" width="15" height="109.60" fill="#FADCC2"/>
<rect x="571.38" y="438.70" width="15" height="29.60" fill="#F0915A"/>
<path d="M576.68 436.70H581.08M578.88 436.70V438.70" stroke="#222" stroke-width="0.9" fill="none"/>
<path d="M576.68 356.70H581.08M578.88 356.70V358.70" stroke="#222" stroke-width="0.9" fill="none"/>
<path d="M576.68 318.20H581.08M578.88 318.20V320.20" stroke="#222" stroke-width="0.9" fill="none"/>
<text x="578.9" y="317.4" font-size="13" text-anchor="middle" fill="#111" >a</text>
<text x="578.9" y="355.4" font-size="13" text-anchor="middle" fill="#111" >a</text>
<text x="578.9" y="434.5" font-size="13" text-anchor="middle" fill="#111" >a</text>
<rect x="595.40" y="358.00" width="15" height="110.30" fill="#EDBB86"/>
<rect x="595.40" y="381.70" width="15" height="86.60" fill="#FADCC2"/>
<rect x="595.40" y="446.60" width="15" height="21.70" fill="#F0915A"/>
<path d="M600.70 444.60H605.10M602.90 444.60V446.60" stroke="#222" stroke-width="0.9" fill="none"/>
<path d="M600.70 379.70H605.10M602.90 379.70V381.70" stroke="#222" stroke-width="0.9" fill="none"/>
<path d="M600.70 356.00H605.10M602.90 356.00V358.00" stroke="#222" stroke-width="0.9" fill="none"/>
<text x="602.9" y="353.4" font-size="13" text-anchor="middle" fill="#111" >cd</text>
<text x="602.9" y="380.6" font-size="13" text-anchor="middle" fill="#111" >bc</text>
<text x="602.9" y="445.0" font-size="13" text-anchor="middle" fill="#111" >b</text>
<rect x="466.5" y="284.5" width="153.00" height="184.00" fill="none" stroke="#999" stroke-width="1"/>
<path d="M466.5 328.5H470.5" stroke="#999" stroke-width="1"/>
<path d="M466.5 363.5H470.5" stroke="#999" stroke-width="1"/>
<path d="M466.5 398.5H470.5" stroke="#999" stroke-width="1"/>
<path d="M466.5 433.5H470.5" stroke="#999" stroke-width="1"/>
<text x="465.5" y="294.8" font-size="13.4" text-anchor="end" fill="#111" >50</text>
<text x="465.5" y="333.7" font-size="13.4" text-anchor="end" fill="#111" >40</text>
<text x="465.5" y="368.5" font-size="13.4" text-anchor="end" fill="#111" >30</text>
<text x="465.5" y="403.5" font-size="13.4" text-anchor="end" fill="#111" >20</text>
<text x="465.5" y="438.3" font-size="13.4" text-anchor="end" fill="#111" >10</text>
<text x="465.5" y="469.4" font-size="13.4" text-anchor="end" fill="#111" >0</text>
<text x="0" y="0" font-size="13.3" text-anchor="middle" fill="#111" transform="translate(438.9 371.8) rotate(-90) scale(1.015 1)">Grain number (No.)</text>
<text x="0" y="0" font-size="13.5" text-anchor="end" fill="#111" transform="translate(488.6 473.8) rotate(-45)">NT–Con</text>
<text x="0" y="0" font-size="13.5" text-anchor="end" fill="#111" transform="translate(513.0 473.8) rotate(-45)">LT2–Con</text>
<text x="0" y="0" font-size="13.5" text-anchor="end" fill="#111" transform="translate(537.4 473.8) rotate(-45)">NT–Gln</text>
<text x="0" y="0" font-size="13.5" text-anchor="end" fill="#111" transform="translate(561.8 473.8) rotate(-45)">LT2–Gln</text>
<text x="0" y="0" font-size="13.5" text-anchor="end" fill="#111" transform="translate(586.2 473.8) rotate(-45)">NT–NMN</text>
<text x="0" y="0" font-size="13.5" text-anchor="end" fill="#111" transform="translate(610.6 473.8) rotate(-45)">LT2–NMN</text>
<text x="462.8" y="278.8" font-size="12.5" text-anchor="middle" font-weight="bold" fill="#111" >(g)</text>
<rect x="678.60" y="362.90" width="15" height="105.30" fill="#EDBB86"/>
<rect x="678.60" y="378.80" width="15" height="89.40" fill="#FADCC2"/>
<rect x="678.60" y="439.60" width="15" height="28.60" fill="#F0915A"/>
<path d="M683.90 437.60H688.30M686.10 437.60V439.60" stroke="#222" stroke-width="0.9" fill="none"/>
<path d="M683.90 376.80H688.30M686.10 376.80V378.80" stroke="#222" stroke-width="0.9" fill="none"/>
<path d="M683.90 360.90H688.30M686.10 360.90V362.90" stroke="#222" stroke-width="0.9" fill="none"/>
<text x="686.1" y="363.3" font-size="13" text-anchor="middle" fill="#111" >b</text>
<text x="686.1" y="375.5" font-size="13" text-anchor="middle" fill="#111" >b</text>
<text x="686.1" y="436.5" font-size="13" text-anchor="middle" fill="#111" >a</text>
<rect x="702.54" y="389.70" width="15" height="78.50" fill="#EDBB86"/>
<rect x="702.54" y="401.40" width="15" height="66.80" fill="#FADCC2"/>
<rect x="702.54" y="447.60" width="15" height="20.60" fill="#F0915A"/>
<path d="M707.84 445.60H712.24M710.04 445.60V447.60" stroke="#222" stroke-width="0.9" fill="none"/>
<path d="M707.84 399.40H712.24M710.04 399.40V401.40" stroke="#222" stroke-width="0.9" fill="none"/>
<path d="M707.84 387.70H712.24M710.04 387.70V389.70" stroke="#222" stroke-width="0.9" fill="none"/>
<text x="710.0" y="388.9" font-size="13" text-anchor="middle" fill="#111" >bc</text>
<text x="710.0" y="400.0" font-size="13" text-anchor="middle" fill="#111" >c</text>
<text x="710.0" y="447.2" font-size="13" text-anchor="middle" fill="#111" >b</text>
<rect x="726.48" y="360.20" width="15" height="108.00" fill="#EDBB86"/>
<rect x="726.48" y="376.10" width="15" height="92.10" fill="#FADCC2"/>
<rect x="726.48" y="440.00" width="15" height="28.20" fill="#F0915A"/>
<path d="M731.78 438.00H736.18M733.98 438.00V440.00" stroke="#222" stroke-width="0.9" fill="none"/>
<path d="M731.78 374.10H736.18M733.98 374.10V376.10" stroke="#222" stroke-width="0.9" fill="none"/>
<path d="M731.78 358.20H736.18M733.98 358.20V360.20" stroke="#222" stroke-width="0.9" fill="none"/>
<text x="734.0" y="358.6" font-size="13" text-anchor="middle" fill="#111" >b</text>
<text x="734.0" y="385.1" font-size="13" text-anchor="middle" fill="#111" >b</text>
<text x="734.0" y="436.1" font-size="13" text-anchor="middle" fill="#111" >a</text>
<rect x="750.42" y="397.50" width="15" height="70.70" fill="#EDBB86"/>
<rect x="750.42" y="407.70" width="15" height="60.50" fill="#FADCC2"/>
<rect x="750.42" y="454.00" width="15" height="14.20" fill="#F0915A"/>
<path d="M755.72 452.00H760.12M757.92 452.00V454.00" stroke="#222" stroke-width="0.9" fill="none"/>
<path d="M755.72 405.70H760.12M757.92 405.70V407.70" stroke="#222" stroke-width="0.9" fill="none"/>
<path d="M755.72 395.50H760.12M757.92 395.50V397.50" stroke="#222" stroke-width="0.9" fill="none"/>
<text x="757.9" y="394.3" font-size="13" text-anchor="middle" fill="#111" >c</text>
<text x="757.9" y="416.4" font-size="13" text-anchor="middle" fill="#111" >c</text>
<text x="757.9" y="451.9" font-size="13" text-anchor="middle" fill="#111" >c</text>
<rect x="774.36" y="341.70" width="15" height="126.50" fill="#EDBB86"/>
<rect x="774.36" y="367.00" width="15" height="101.20" fill="#FADCC2"/>
<rect x="774.36" y="441.60" width="15" height="26.60" fill="#F0915A"/>
<path d="M779.66 439.60H784.06M781.86 439.60V441.60" stroke="#222" stroke-width="0.9" fill="none"/>
<path d="M779.66 365.00H784.06M781.86 365.00V367.00" stroke="#222" stroke-width="0.9" fill="none"/>
<path d="M779.66 339.70H784.06M781.86 339.70V341.70" stroke="#222" stroke-width="0.9" fill="none"/>
<text x="781.9" y="337.7" font-size="13" text-anchor="middle" fill="#111" >a</text>
<text x="781.9" y="362.6" font-size="13" text-anchor="middle" fill="#111" >a</text>
<text x="781.9" y="439.0" font-size="13" text-anchor="middle" fill="#111" >a</text>
<rect x="798.30" y="385.80" width="15" height="82.40" fill="#EDBB86"/>
<rect x="798.30" y="400.90" width="15" height="67.30" fill="#FADCC2"/>
<rect x="798.30" y="448.00" width="15" height="20.20" fill="#F0915A"/>
<path d="M803.60 446.00H808.00M805.80 446.00V448.00" stroke="#222" stroke-width="0.9" fill="none"/>
<path d="M803.60 398.90H808.00M805.80 398.90V400.90" stroke="#222" stroke-width="0.9" fill="none"/>
<path d="M803.60 383.80H808.00M805.80 383.80V385.80" stroke="#222" stroke-width="0.9" fill="none"/>
<text x="805.8" y="384.0" font-size="13" text-anchor="middle" fill="#111" >b</text>
<text x="805.8" y="396.5" font-size="13" text-anchor="middle" fill="#111" >c</text>
<text x="805.8" y="446.1" font-size="13" text-anchor="middle" fill="#111" >b</text>
<rect x="670.5" y="285.5" width="152.00" height="183.00" fill="none" stroke="#333" stroke-width="1"/>
<path d="M670.5 346.5H674.5" stroke="#333" stroke-width="1"/>
<path d="M670.5 405.5H674.5" stroke="#333" stroke-width="1"/>
<text x="669.0" y="294.8" font-size="13.4" text-anchor="end" fill="#111" >1.5</text>
<text x="669.0" y="351.5" font-size="13.4" text-anchor="end" fill="#111" >1.0</text>
<text x="669.0" y="410.3" font-size="13.4" text-anchor="end" fill="#111" >0.5</text>
<text x="669.0" y="469.4" font-size="13.4" text-anchor="end" fill="#111" >0.0</text>
<text x="0" y="0" font-size="13.3" text-anchor="middle" fill="#111" transform="translate(640.6 371.5) rotate(-90) scale(1.0 1)">Grain weight (g)</text>
<text x="0" y="0" font-size="13.5" text-anchor="end" fill="#111" transform="translate(691.8 474.3) rotate(-45)">NT–Con</text>
<text x="0" y="0" font-size="13.5" text-anchor="end" fill="#111" transform="translate(715.8 474.3) rotate(-45)">LT2–Con</text>
<text x="0" y="0" font-size="13.5" text-anchor="end" fill="#111" transform="translate(739.8 474.3) rotate(-45)">NT–Gln</text>
<text x="0" y="0" font-size="13.5" text-anchor="end" fill="#111" transform="translate(763.8 474.3) rotate(-45)">LT2–Gln</text>
<text x="0" y="0" font-size="13.5" text-anchor="end" fill="#111" transform="translate(787.8 474.3) rotate(-45)">NT–NMN</text>
<text x="0" y="0" font-size="13.5" text-anchor="end" fill="#111" transform="translate(811.8 474.3) rotate(-45)">LT2–NMN</text>
<text x="668.3" y="278.8" font-size="12.5" text-anchor="middle" font-weight="bold" fill="#111" >(h)</text>
<text x="429.6" y="467.4" font-size="13" text-anchor="middle" fill="#111" >0</text>
<rect x="13.9" y="527.1" width="816.2" height="332.7" rx="14.5" fill="#E1EDC4"/>
<text x="38.2" y="545.8" font-size="12.8" font-weight="bold" text-anchor="middle" fill="#111">(i)</text>
<defs><marker id="ah" viewBox="-1 -1 16 12" refX="13.2" refY="5" markerWidth="16" markerHeight="12" markerUnits="userSpaceOnUse" orient="auto"><path d="M0,0.4L13.2,5L0,9.6" fill="none" stroke="#111" stroke-width="1.9"/></marker></defs>
<g transform="translate(0 0)">
<path d="M35.4,719.6 Q50,720.3 62,721.9 L62,722.6 Q50,721.2 35.4,720.1Z" fill="#1A9440"/>
<path d="M111.1,760.5L110.8,759.2L110.6,757.9L110.3,756.6L110.0,755.3L109.6,754.0L109.2,752.7L108.7,751.4L108.2,750.2L107.6,748.9L106.9,747.7L106.2,746.5L105.5,745.3L104.6,744.2L103.7,743.0L102.8,742.0L101.7,740.9L100.6,739.8L99.5,738.8L98.3,737.8L97.1,736.9L95.8,736.0L94.4,735.0L93.0,734.2L91.5,733.3L90.0,732.5L88.5,731.7L86.8,730.9L85.2,730.1L83.4,729.4L81.6,728.6L79.8,727.9L77.9,727.2L75.9,726.6L73.9,725.9L71.8,725.2L69.7,724.6L67.5,723.9L65.2,723.3L62.9,722.7L60.5,722.0L60.5,722.0L62.8,723.0L64.9,724.0L67.0,725.0L69.1,726.1L71.0,727.1L72.9,728.2L74.7,729.2L76.5,730.3L78.1,731.3L79.7,732.3L81.3,733.4L82.8,734.4L84.2,735.4L85.5,736.4L86.8,737.4L88.1,738.4L89.3,739.4L90.4,740.4L91.5,741.4L92.6,742.3L93.6,743.3L94.6,744.2L95.6,745.1L96.5,746.1L97.4,747.0L98.2,747.9L99.1,748.8L99.9,749.7L100.7,750.6L101.5,751.5L102.4,752.4L103.2,753.3L104.0,754.3L104.8,755.2L105.5,756.1L106.3,757.1L107.1,758.1L107.9,759.1L108.6,760.1L109.3,761.1Z" fill="#1A9440"/>
<path d="M116.2,790.0L116.6,788.2L117.0,786.4L117.5,784.6L118.0,782.9L118.5,781.1L119.1,779.4L119.8,777.7L120.4,775.9L121.1,774.2L121.8,772.5L122.6,770.8L123.4,769.1L124.2,767.4L125.1,765.7L126.0,764.0L126.9,762.2L128.0,760.5L129.1,758.8L130.2,757.1L131.4,755.4L132.7,753.6L134.1,751.9L135.5,750.2L137.0,748.5L138.5,746.7L140.2,745.0L141.9,743.3L143.7,741.6L145.6,739.9L147.6,738.2L149.6,736.5L151.8,734.8L154.0,733.1L156.3,731.5L158.8,729.8L161.3,728.2L163.9,726.6L166.6,725.0L169.4,723.5L172.3,722.0L172.3,722.0L169.3,723.2L166.3,724.5L163.4,725.7L160.6,727.0L157.9,728.3L155.2,729.6L152.6,731.0L150.2,732.4L147.7,733.8L145.4,735.2L143.2,736.7L141.0,738.2L138.9,739.8L136.9,741.3L134.9,742.9L133.1,744.6L131.3,746.2L129.6,747.9L127.9,749.6L126.4,751.4L124.9,753.2L123.6,755.0L122.3,756.8L121.0,758.7L119.9,760.5L118.9,762.4L117.9,764.3L117.0,766.3L116.3,768.2L115.6,770.2L115.0,772.2L114.5,774.2L114.1,776.2L113.8,778.2L113.6,780.2L113.5,782.1L113.5,784.1L113.5,786.1L113.6,788.0L113.8,790.0Z" fill="#1A9440"/>
<path d="M118.0,733.1L118.3,731.2L118.7,729.4L119.1,727.7L119.5,725.9L120.0,724.1L120.6,722.4L121.1,720.7L121.8,719.0L122.4,717.3L123.1,715.6L123.8,713.9L124.6,712.3L125.4,710.6L126.2,708.9L127.1,707.3L128.1,705.6L129.1,703.9L130.1,702.2L131.3,700.6L132.4,698.9L133.7,697.2L135.0,695.5L136.4,693.8L137.8,692.2L139.3,690.5L140.9,688.8L142.6,687.1L144.4,685.4L146.2,683.7L148.1,682.0L150.1,680.3L152.2,678.6L154.4,676.9L156.6,675.3L159.0,673.6L161.4,671.9L163.9,670.3L166.6,668.6L169.3,667.0L172.1,665.4L172.1,665.4L169.1,666.8L166.3,668.1L163.5,669.5L160.8,670.8L158.1,672.2L155.6,673.6L153.1,675.1L150.7,676.5L148.4,678.0L146.2,679.4L144.0,680.9L141.9,682.5L139.9,684.0L138.0,685.6L136.1,687.2L134.4,688.8L132.7,690.4L131.0,692.1L129.5,693.8L128.0,695.5L126.7,697.2L125.3,698.9L124.1,700.7L123.0,702.5L121.9,704.3L120.9,706.2L120.0,708.0L119.2,709.9L118.4,711.8L117.8,713.7L117.2,715.6L116.8,717.5L116.4,719.4L116.0,721.4L115.8,723.3L115.6,725.2L115.5,727.2L115.5,729.1L115.5,731.0L115.6,732.9Z" fill="#1A9440"/>
<path d="M113.6,809.6L113.0,808.6L112.4,807.6L111.8,806.7L111.2,805.8L110.6,804.9L110.0,804.1L109.3,803.2L108.7,802.4L108.0,801.6L107.3,800.9L106.6,800.1L105.9,799.4L105.1,798.7L104.4,798.1L103.6,797.5L102.8,796.9L102.0,796.3L101.2,795.8L100.3,795.2L99.5,794.7L98.6,794.3L97.7,793.8L96.8,793.4L95.9,793.0L94.9,792.6L94.0,792.2L93.0,791.9L92.0,791.6L91.0,791.3L90.0,791.0L88.9,790.8L87.9,790.5L86.8,790.3L85.7,790.1L84.6,789.9L83.5,789.8L82.3,789.6L81.1,789.5L79.9,789.3L78.7,789.2L78.7,789.2L79.9,789.5L81.1,789.8L82.2,790.2L83.3,790.5L84.4,790.9L85.4,791.2L86.4,791.6L87.4,792.0L88.4,792.4L89.4,792.9L90.3,793.3L91.2,793.7L92.1,794.2L92.9,794.6L93.8,795.1L94.6,795.6L95.4,796.1L96.2,796.6L96.9,797.1L97.7,797.6L98.5,798.1L99.2,798.6L99.9,799.2L100.7,799.7L101.4,800.3L102.1,800.9L102.8,801.5L103.5,802.1L104.2,802.7L105.0,803.3L105.7,803.9L106.4,804.6L107.1,805.2L107.9,805.9L108.6,806.6L109.4,807.3L110.1,808.1L110.9,808.8L111.7,809.6L112.4,810.4Z" fill="#D4A62A"/>
<path d="M113.6,812 C113.3,780 113.3,740 115.0,698" stroke="#6DBE45" stroke-width="4.8" fill="none"/>
<path d="M111.2,731.2H115.8M111.0,762.4H115.6M111.1,788.8H115.9" stroke="#2C6E48" stroke-width="0.9"/>
<path d="M99.5,576.6L95.5,568.6M132.5,574.7L135.5,566.7M99.5,592.0L95.5,584.0M132.5,589.3L135.5,581.3M99.5,607.4L95.5,599.4M132.5,603.9L135.5,595.9M99.5,622.8L95.5,614.8M132.5,618.5L135.5,610.5M99.5,638.2L95.5,630.2M132.5,633.1L135.5,625.1M99.5,653.6L95.5,645.6M132.5,647.7L135.5,639.7M99.5,669.0L95.5,661.0M132.5,662.3L135.5,654.3M99.5,684.4L95.5,676.4M132.5,676.9L135.5,668.9M111.5,565.0L108.5,555.0" stroke="#C8E090" stroke-width="0.5" fill="none"/>
<path d="M0,-10.92C5.29,-5.46 13.51,10.92 0,10.92C-13.51,10.92 -5.29,-5.46 0,-10.92Z" transform="translate(122.2 685.9) rotate(28)" fill="#2DA93B" stroke="#D2E46C" stroke-width="0.5"/>
<path d="M0,-10.92C5.29,-5.46 13.51,10.92 0,10.92C-13.51,10.92 -5.29,-5.46 0,-10.92Z" transform="translate(107.3 691.3) rotate(-55)" fill="#2DA93B" stroke="#D2E46C" stroke-width="0.5"/>
<path d="M0,-10.92C5.29,-5.46 13.51,10.92 0,10.92C-13.51,10.92 -5.29,-5.46 0,-10.92Z" transform="translate(125.2 671.3) rotate(33)" fill="#2DA93B" stroke="#D2E46C" stroke-width="0.5"/>
<path d="M0,-10.92C5.29,-5.46 13.51,10.92 0,10.92C-13.51,10.92 -5.29,-5.46 0,-10.92Z" transform="translate(107.0 676.2) rotate(-42)" fill="#2DA93B" stroke="#D2E46C" stroke-width="0.5"/>
<path d="M0,-10.92C5.29,-5.46 13.51,10.92 0,10.92C-13.51,10.92 -5.29,-5.46 0,-10.92Z" transform="translate(125.4 656.7) rotate(33)" fill="#2DA93B" stroke="#D2E46C" stroke-width="0.5"/>
<path d="M0,-10.92C5.29,-5.46 13.51,10.92 0,10.92C-13.51,10.92 -5.29,-5.46 0,-10.92Z" transform="translate(107.3 661.1) rotate(-42)" fill="#2DA93B" stroke="#D2E46C" stroke-width="0.5"/>
<path d="M0,-10.92C5.29,-5.46 13.51,10.92 0,10.92C-13.51,10.92 -5.29,-5.46 0,-10.92Z" transform="translate(125.0 642.1) rotate(33)" fill="#2DA93B" stroke="#D2E46C" stroke-width="0.5"/>
<path d="M0,-10.92C5.29,-5.46 13.51,10.92 0,10.92C-13.51,10.92 -5.29,-5.46 0,-10.92Z" transform="translate(107.6 646.0) rotate(-42)" fill="#2DA93B" stroke="#D2E46C" stroke-width="0.5"/>
<path d="M0,-10.92C5.29,-5.46 13.51,10.92 0,10.92C-13.51,10.92 -5.29,-5.46 0,-10.92Z" transform="translate(124.6 627.5) rotate(33)" fill="#2DA93B" stroke="#D2E46C" stroke-width="0.5"/>
<path d="M0,-10.92C5.29,-5.46 13.51,10.92 0,10.92C-13.51,10.92 -5.29,-5.46 0,-10.92Z" transform="translate(108.0 630.9) rotate(-42)" fill="#2DA93B" stroke="#D2E46C" stroke-width="0.5"/>
<path d="M0,-10.92C5.29,-5.46 13.51,10.92 0,10.92C-13.51,10.92 -5.29,-5.46 0,-10.92Z" transform="translate(125.0 612.9) rotate(33)" fill="#2DA93B" stroke="#D2E46C" stroke-width="0.5"/>
<path d="M0,-10.92C5.29,-5.46 13.51,10.92 0,10.92C-13.51,10.92 -5.29,-5.46 0,-10.92Z" transform="translate(108.4 615.8) rotate(-42)" fill="#2DA93B" stroke="#D2E46C" stroke-width="0.5"/>
<path d="M0,-10.92C5.29,-5.46 13.51,10.92 0,10.92C-13.51,10.92 -5.29,-5.46 0,-10.92Z" transform="translate(125.3 598.3) rotate(33)" fill="#2DA93B" stroke="#D2E46C" stroke-width="0.5"/>
<path d="M0,-10.92C5.29,-5.46 13.51,10.92 0,10.92C-13.51,10.92 -5.29,-5.46 0,-10.92Z" transform="translate(107.6 600.7) rotate(-42)" fill="#2DA93B" stroke="#D2E46C" stroke-width="0.5"/>
<path d="M0,-10.92C5.29,-5.46 13.51,10.92 0,10.92C-13.51,10.92 -5.29,-5.46 0,-10.92Z" transform="translate(123.0 583.7) rotate(33)" fill="#2DA93B" stroke="#D2E46C" stroke-width="0.5"/>
<path d="M0,-10.92C5.29,-5.46 13.51,10.92 0,10.92C-13.51,10.92 -5.29,-5.46 0,-10.92Z" transform="translate(106.5 585.6) rotate(-42)" fill="#2DA93B" stroke="#D2E46C" stroke-width="0.5"/>
<path d="M0,-10.71C4.00,-5.35 10.23,10.71 0,10.71C-10.23,10.71 -4.00,-5.35 0,-10.71Z" transform="translate(114.1 574.0) rotate(-15)" fill="#2DA93B" stroke="#D2E46C" stroke-width="0.5"/>
</g>
<path d="M110.8,604.6L105.3,591.7L114.7,598.8L125.6,592.1L119.0,604.6M110.2,595.8L114.7,601.3L119.2,595.8" stroke="#F15A24" stroke-width="2.0" fill="none" stroke-linejoin="miter"/>
<path d="M114.7,580.8L114.7,608.9M110.8,604.6L114.7,580.8L119.0,604.6" stroke="#F15A24" stroke-width="2.0" fill="none" stroke-linejoin="miter"/>
<path d="M110.5,642.5L105.8,629.7L115.7,638.8L126.7,629.7L121.0,642.5M111.2,635.8L115.7,641.3L120.2,635.8" stroke="#E63B2E" stroke-width="2.0" fill="none" stroke-linejoin="miter"/>
<path d="M115.7,619.3L115.7,652.3M110.5,642.5L115.7,619.3L121.0,642.5" stroke="#E63B2E" stroke-width="2.0" fill="none" stroke-linejoin="miter"/>
<path d="M110.9,690.3L105.3,677.3L115.2,684.7L125.7,677.3L119.7,690.3M110.7,681.7L115.2,687.2L119.7,681.7" stroke="#F26A22" stroke-width="2.0" fill="none" stroke-linejoin="miter"/>
<path d="M115.2,664.3L115.2,698.2M110.4,677.8L115.2,664.3L120.1,677.8" stroke="#D7263D" stroke-width="2.0" fill="none" stroke-linejoin="miter"/>
<path d="M112.7,714.0V738.0M107.9,727.0L112.7,714.0L117.7,727.0" stroke="#D7263D" stroke-width="1.8" fill="none"/>
<path d="M112.9,752.3V776.6M108.1,765.3L112.9,752.3L117.9,765.3" stroke="#F26A22" stroke-width="1.8" fill="none"/>
<path d="M141.3,685.8L124.9,704.1M124.9,704.1L130.3,691.6M124.9,704.1L137.6,696.8" stroke="#D7263D" stroke-width="1.8" fill="none"/>
<path d="M98.3,811.3 V833.5 Q98.3,838.8 103.5,838.8 H127.3 Q132.6,838.8 132.6,833.5 V811.3" fill="#F0A068" stroke="#1D3557" stroke-width="1.7"/>
<ellipse cx="115.5" cy="811.3" rx="17.15" ry="4.7" fill="#B8774C" stroke="#1D3557" stroke-width="1.7"/>
<path d="M113.6,812.5 V802" stroke="#6DBE45" stroke-width="4.8" fill="none"/>
<g transform="translate(446.5 0)">
<path d="M35.4,719.6 Q50,720.3 62,721.9 L62,722.6 Q50,721.2 35.4,720.1Z" fill="#1A9440"/>
<path d="M111.1,760.5L110.8,759.2L110.6,757.9L110.3,756.6L110.0,755.3L109.6,754.0L109.2,752.7L108.7,751.4L108.2,750.2L107.6,748.9L106.9,747.7L106.2,746.5L105.5,745.3L104.6,744.2L103.7,743.0L102.8,742.0L101.7,740.9L100.6,739.8L99.5,738.8L98.3,737.8L97.1,736.9L95.8,736.0L94.4,735.0L93.0,734.2L91.5,733.3L90.0,732.5L88.5,731.7L86.8,730.9L85.2,730.1L83.4,729.4L81.6,728.6L79.8,727.9L77.9,727.2L75.9,726.6L73.9,725.9L71.8,725.2L69.7,724.6L67.5,723.9L65.2,723.3L62.9,722.7L60.5,722.0L60.5,722.0L62.8,723.0L64.9,724.0L67.0,725.0L69.1,726.1L71.0,727.1L72.9,728.2L74.7,729.2L76.5,730.3L78.1,731.3L79.7,732.3L81.3,733.4L82.8,734.4L84.2,735.4L85.5,736.4L86.8,737.4L88.1,738.4L89.3,739.4L90.4,740.4L91.5,741.4L92.6,742.3L93.6,743.3L94.6,744.2L95.6,745.1L96.5,746.1L97.4,747.0L98.2,747.9L99.1,748.8L99.9,749.7L100.7,750.6L101.5,751.5L102.4,752.4L103.2,753.3L104.0,754.3L104.8,755.2L105.5,756.1L106.3,757.1L107.1,758.1L107.9,759.1L108.6,760.1L109.3,761.1Z" fill="#1A9440"/>
<path d="M116.2,790.0L116.6,788.2L117.0,786.4L117.5,784.6L118.0,782.9L118.5,781.1L119.1,779.4L119.8,777.7L120.4,775.9L121.1,774.2L121.8,772.5L122.6,770.8L123.4,769.1L124.2,767.4L125.1,765.7L126.0,764.0L126.9,762.2L128.0,760.5L129.1,758.8L130.2,757.1L131.4,755.4L132.7,753.6L134.1,751.9L135.5,750.2L137.0,748.5L138.5,746.7L140.2,745.0L141.9,743.3L143.7,741.6L145.6,739.9L147.6,738.2L149.6,736.5L151.8,734.8L154.0,733.1L156.3,731.5L158.8,729.8L161.3,728.2L163.9,726.6L166.6,725.0L169.4,723.5L172.3,722.0L172.3,722.0L169.3,723.2L166.3,724.5L163.4,725.7L160.6,727.0L157.9,728.3L155.2,729.6L152.6,731.0L150.2,732.4L147.7,733.8L145.4,735.2L143.2,736.7L141.0,738.2L138.9,739.8L136.9,741.3L134.9,742.9L133.1,744.6L131.3,746.2L129.6,747.9L127.9,749.6L126.4,751.4L124.9,753.2L123.6,755.0L122.3,756.8L121.0,758.7L119.9,760.5L118.9,762.4L117.9,764.3L117.0,766.3L116.3,768.2L115.6,770.2L115.0,772.2L114.5,774.2L114.1,776.2L113.8,778.2L113.6,780.2L113.5,782.1L113.5,784.1L113.5,786.1L113.6,788.0L113.8,790.0Z" fill="#1A9440"/>
<path d="M118.0,733.1L118.3,731.2L118.7,729.4L119.1,727.7L119.5,725.9L120.0,724.1L120.6,722.4L121.1,720.7L121.8,719.0L122.4,717.3L123.1,715.6L123.8,713.9L124.6,712.3L125.4,710.6L126.2,708.9L127.1,707.3L128.1,705.6L129.1,703.9L130.1,702.2L131.3,700.6L132.4,698.9L133.7,697.2L135.0,695.5L136.4,693.8L137.8,692.2L139.3,690.5L140.9,688.8L142.6,687.1L144.4,685.4L146.2,683.7L148.1,682.0L150.1,680.3L152.2,678.6L154.4,676.9L156.6,675.3L159.0,673.6L161.4,671.9L163.9,670.3L166.6,668.6L169.3,667.0L172.1,665.4L172.1,665.4L169.1,666.8L166.3,668.1L163.5,669.5L160.8,670.8L158.1,672.2L155.6,673.6L153.1,675.1L150.7,676.5L148.4,678.0L146.2,679.4L144.0,680.9L141.9,682.5L139.9,684.0L138.0,685.6L136.1,687.2L134.4,688.8L132.7,690.4L131.0,692.1L129.5,693.8L128.0,695.5L126.7,697.2L125.3,698.9L124.1,700.7L123.0,702.5L121.9,704.3L120.9,706.2L120.0,708.0L119.2,709.9L118.4,711.8L117.8,713.7L117.2,715.6L116.8,717.5L116.4,719.4L116.0,721.4L115.8,723.3L115.6,725.2L115.5,727.2L115.5,729.1L115.5,731.0L115.6,732.9Z" fill="#1A9440"/>
<path d="M113.6,809.6L113.0,808.6L112.4,807.6L111.8,806.7L111.2,805.8L110.6,804.9L110.0,804.1L109.3,803.2L108.7,802.4L108.0,801.6L107.3,800.9L106.6,800.1L105.9,799.4L105.1,798.7L104.4,798.1L103.6,797.5L102.8,796.9L102.0,796.3L101.2,795.8L100.3,795.2L99.5,794.7L98.6,794.3L97.7,793.8L96.8,793.4L95.9,793.0L94.9,792.6L94.0,792.2L93.0,791.9L92.0,791.6L91.0,791.3L90.0,791.0L88.9,790.8L87.9,790.5L86.8,790.3L85.7,790.1L84.6,789.9L83.5,789.8L82.3,789.6L81.1,789.5L79.9,789.3L78.7,789.2L78.7,789.2L79.9,789.5L81.1,789.8L82.2,790.2L83.3,790.5L84.4,790.9L85.4,791.2L86.4,791.6L87.4,792.0L88.4,792.4L89.4,792.9L90.3,793.3L91.2,793.7L92.1,794.2L92.9,794.6L93.8,795.1L94.6,795.6L95.4,796.1L96.2,796.6L96.9,797.1L97.7,797.6L98.5,798.1L99.2,798.6L99.9,799.2L100.7,799.7L101.4,800.3L102.1,800.9L102.8,801.5L103.5,802.1L104.2,802.7L105.0,803.3L105.7,803.9L106.4,804.6L107.1,805.2L107.9,805.9L108.6,806.6L109.4,807.3L110.1,808.1L110.9,808.8L111.7,809.6L112.4,810.4Z" fill="#D4A62A"/>
<path d="M113.6,812 C113.3,780 113.3,740 115.0,698" stroke="#6DBE45" stroke-width="4.8" fill="none"/>
<path d="M111.2,731.2H115.8M111.0,762.4H115.6M111.1,788.8H115.9" stroke="#2C6E48" stroke-width="0.9"/>
<g transform="translate(0 -4.6)">
<path d="M99.5,576.6L95.5,568.6M132.5,574.7L135.5,566.7M99.5,592.0L95.5,584.0M132.5,589.3L135.5,581.3M99.5,607.4L95.5,599.4M132.5,603.9L135.5,595.9M99.5,622.8L95.5,614.8M132.5,618.5L135.5,610.5M99.5,638.2L95.5,630.2M132.5,633.1L135.5,625.1M99.5,653.6L95.5,645.6M132.5,647.7L135.5,639.7M99.5,669.0L95.5,661.0M132.5,662.3L135.5,654.3M99.5,684.4L95.5,676.4M132.5,676.9L135.5,668.9M111.5,565.0L108.5,555.0" stroke="#C8E090" stroke-width="0.5" fill="none"/>
<path d="M0,-10.92C5.29,-5.46 13.51,10.92 0,10.92C-13.51,10.92 -5.29,-5.46 0,-10.92Z" transform="translate(122.2 685.9) rotate(28)" fill="#2DA93B" stroke="#D2E46C" stroke-width="0.5"/>
<path d="M0,-10.92C5.29,-5.46 13.51,10.92 0,10.92C-13.51,10.92 -5.29,-5.46 0,-10.92Z" transform="translate(107.3 691.3) rotate(-55)" fill="#2DA93B" stroke="#D2E46C" stroke-width="0.5"/>
<path d="M0,-10.92C5.29,-5.46 13.51,10.92 0,10.92C-13.51,10.92 -5.29,-5.46 0,-10.92Z" transform="translate(125.2 671.3) rotate(33)" fill="#2DA93B" stroke="#D2E46C" stroke-width="0.5"/>
<path d="M0,-10.92C5.29,-5.46 13.51,10.92 0,10.92C-13.51,10.92 -5.29,-5.46 0,-10.92Z" transform="translate(107.0 676.2) rotate(-42)" fill="#2DA93B" stroke="#D2E46C" stroke-width="0.5"/>
<path d="M0,-10.92C5.29,-5.46 13.51,10.92 0,10.92C-13.51,10.92 -5.29,-5.46 0,-10.92Z" transform="translate(125.4 656.7) rotate(33)" fill="#2DA93B" stroke="#D2E46C" stroke-width="0.5"/>
<path d="M0,-10.92C5.29,-5.46 13.51,10.92 0,10.92C-13.51,10.92 -5.29,-5.46 0,-10.92Z" transform="translate(107.3 661.1) rotate(-42)" fill="#2DA93B" stroke="#D2E46C" stroke-width="0.5"/>
<path d="M0,-10.92C5.29,-5.46 13.51,10.92 0,10.92C-13.51,10.92 -5.29,-5.46 0,-10.92Z" transform="translate(125.0 642.1) rotate(33)" fill="#2DA93B" stroke="#D2E46C" stroke-width="0.5"/>
<path d="M0,-10.92C5.29,-5.46 13.51,10.92 0,10.92C-13.51,10.92 -5.29,-5.46 0,-10.92Z" transform="translate(107.6 646.0) rotate(-42)" fill="#2DA93B" stroke="#D2E46C" stroke-width="0.5"/>
<path d="M0,-10.92C5.29,-5.46 13.51,10.92 0,10.92C-13.51,10.92 -5.29,-5.46 0,-10.92Z" transform="translate(124.6 627.5) rotate(33)" fill="#2DA93B" stroke="#D2E46C" stroke-width="0.5"/>
<path d="M0,-10.92C5.29,-5.46 13.51,10.92 0,10.92C-13.51,10.92 -5.29,-5.46 0,-10.92Z" transform="translate(108.0 630.9) rotate(-42)" fill="#2DA93B" stroke="#D2E46C" stroke-width="0.5"/>
<path d="M0,-10.92C5.29,-5.46 13.51,10.92 0,10.92C-13.51,10.92 -5.29,-5.46 0,-10.92Z" transform="translate(125.0 612.9) rotate(33)" fill="#2DA93B" stroke="#D2E46C" stroke-width="0.5"/>
<path d="M0,-10.92C5.29,-5.46 13.51,10.92 0,10.92C-13.51,10.92 -5.29,-5.46 0,-10.92Z" transform="translate(108.4 615.8) rotate(-42)" fill="#2DA93B" stroke="#D2E46C" stroke-width="0.5"/>
<path d="M0,-10.92C5.29,-5.46 13.51,10.92 0,10.92C-13.51,10.92 -5.29,-5.46 0,-10.92Z" transform="translate(125.3 598.3) rotate(33)" fill="#2DA93B" stroke="#D2E46C" stroke-width="0.5"/>
<path d="M0,-10.92C5.29,-5.46 13.51,10.92 0,10.92C-13.51,10.92 -5.29,-5.46 0,-10.92Z" transform="translate(107.6 600.7) rotate(-42)" fill="#2DA93B" stroke="#D2E46C" stroke-width="0.5"/>
<path d="M0,-10.92C5.29,-5.46 13.51,10.92 0,10.92C-13.51,10.92 -5.29,-5.46 0,-10.92Z" transform="translate(123.0 583.7) rotate(33)" fill="#2DA93B" stroke="#D2E46C" stroke-width="0.5"/>
<path d="M0,-10.92C5.29,-5.46 13.51,10.92 0,10.92C-13.51,10.92 -5.29,-5.46 0,-10.92Z" transform="translate(106.5 585.6) rotate(-42)" fill="#2DA93B" stroke="#D2E46C" stroke-width="0.5"/>
<path d="M0,-10.71C4.00,-5.35 10.23,10.71 0,10.71C-10.23,10.71 -4.00,-5.35 0,-10.71Z" transform="translate(114.1 574.0) rotate(-15)" fill="#2DA93B" stroke="#D2E46C" stroke-width="0.5"/>
</g>
</g>
<path d="M0,-9.03C1.52,-4.51 3.89,9.03 0,9.03C-3.89,9.03 -1.52,-4.51 0,-9.03Z" transform="translate(555.8 580.2) rotate(-38)" fill="#050505" stroke="#050505" stroke-width="0.5"/>
<path d="M0,-9.03C1.52,-4.51 3.89,9.03 0,9.03C-3.89,9.03 -1.52,-4.51 0,-9.03Z" transform="translate(567.6 577.6) rotate(30)" fill="#050505" stroke="#050505" stroke-width="0.5"/>
<path d="M0,-10.08C2.80,-5.04 7.16,10.08 0,10.08C-7.16,10.08 -2.80,-5.04 0,-10.08Z" transform="translate(560.5 569.7) rotate(-12)" fill="#050505" stroke="#D2E46C" stroke-width="0.5"/>
<path d="M0,-8.61C2.24,-4.30 5.73,8.61 0,8.61C-5.73,8.61 -2.24,-4.30 0,-8.61Z" transform="translate(570.2 666.5) rotate(40)" fill="#050505" stroke="#050505" stroke-width="0.5"/>
<path d="M0,-9.24C2.56,-4.62 6.55,9.24 0,9.24C-6.55,9.24 -2.56,-4.62 0,-9.24Z" transform="translate(568.6 685.5) rotate(33)" fill="#050505" stroke="#050505" stroke-width="0.5"/>
<path d="M0,-10.08C2.88,-5.04 7.37,10.08 0,10.08C-7.37,10.08 -2.88,-5.04 0,-10.08Z" transform="translate(553.4 690.6) rotate(-57)" fill="#050505" stroke="#050505" stroke-width="0.5"/>
<path d="M557.2,600.5L552.4,588.5L562.0,597.3L572.1,588.0L567.3,600.5M557.5,594.3L562.0,599.8L566.5,594.3" stroke="#1B3A9A" stroke-width="2.0" fill="none" stroke-linejoin="miter"/>
<path d="M562.0,580.3L562.0,607.7M557.2,600.5L562.0,580.3L567.3,600.5" stroke="#1B3A9A" stroke-width="2.0" fill="none" stroke-linejoin="miter"/>
<path d="M557.8,639.0L552.7,626.7L562.6,635.5L573.1,626.7L567.9,639.0M558.1,632.5L562.6,638.0L567.1,632.5" stroke="#2A7CC8" stroke-width="2.0" fill="none" stroke-linejoin="miter"/>
<path d="M562.6,616.5L562.6,648.0M557.8,639.0L562.6,616.5L567.9,639.0" stroke="#2A7CC8" stroke-width="2.0" fill="none" stroke-linejoin="miter"/>
<path d="M557.5,678.5L552.9,669.4L562.8,677.0L572.6,669.4L567.8,678.0M558.3,674.0L562.8,679.5L567.3,674.0" stroke="#1B3A9A" stroke-width="2.0" fill="none" stroke-linejoin="miter"/>
<path d="M562.8,656.0L562.8,688.7M557.5,678.5L562.8,656.0L567.8,678.0" stroke="#1B3A9A" stroke-width="2.0" fill="none" stroke-linejoin="miter"/>
<path d="M553.7,710.8H564.2M558.6,710.8V732.5" stroke="#C8102E" stroke-width="1.8" fill="none"/>
<path d="M559.4,753.0V777.0M554.6,766.0L559.4,753.0L564.4,766.0" stroke="#F26A22" stroke-width="1.8" fill="none"/>
<path d="M588,682.4L573.1,701.6M567.8,697.8L576.4,704.5" stroke="#C8102E" stroke-width="1.8" fill="none"/>
<path d="M544.8,811.3 V833.5 Q544.8,838.8 550.0,838.8 H573.8 Q579.1,838.8 579.1,833.5 V811.3" fill="#F0A068" stroke="#1D3557" stroke-width="1.7"/>
<ellipse cx="562.0" cy="811.3" rx="17.15" ry="4.7" fill="#B8774C" stroke="#1D3557" stroke-width="1.7"/>
<path d="M560.1,812.5 V802" stroke="#6DBE45" stroke-width="4.8" fill="none"/>
<text x="73.8" y="602.9" font-size="13.4" text-anchor="middle" fill="#111" >Apical</text>
<text x="73.5" y="639.5" font-size="13.4" text-anchor="middle" fill="#111" >Central</text>
<text x="73.5" y="682.7" font-size="13.4" text-anchor="middle" fill="#111" >Basal</text>
<text x="165.4" y="715.2" font-size="13.4" text-anchor="middle" fill="#111" >Assimilates</text>
<text x="115.7" y="830.8" font-size="13.4" text-anchor="middle" fill="#111" >NT</text>
<text x="561.3" y="831.4" font-size="13.4" text-anchor="middle" fill="#111" >LT</text>
<path d="M201.3,637.5L201.3,607.0M201.3,621.2L190.2,611.9M201.3,621.2L212.4,611.9M201.3,637.5L227.7,622.2M215.4,629.4L217.9,615.1M215.4,629.4L229.0,634.3M201.3,637.5L227.7,652.8M215.4,645.6L229.0,640.7M215.4,645.6L217.9,659.9M201.3,637.5L201.3,668.0M201.3,653.8L212.4,663.1M201.3,653.8L190.2,663.1M201.3,637.5L174.9,622.2M187.2,629.4L173.6,634.3M187.2,629.4L184.7,615.1M201.3,637.5L174.9,652.8M187.2,645.6L184.7,659.9M187.2,645.6L173.6,640.7" stroke="#2BA6E6" stroke-width="1.7" fill="none" stroke-linecap="round"/>
<text x="199.9" y="630.8" font-size="12.8" font-weight="bold" text-anchor="middle" fill="#111" >Low</text>
<text x="201.5" y="646.6" font-size="12.8" font-weight="bold" text-anchor="middle" fill="#111" >temperature</text>
<ellipse cx="320.3" cy="581.6" rx="32.8" ry="19" fill="#F0A52C"/>
<ellipse cx="320.9" cy="694" rx="32.8" ry="19" fill="#F0A52C"/>
<text x="320.3" y="586.3" font-size="13.4" text-anchor="middle" fill="#111" >NADPH</text>
<text x="320.9" y="698.7" font-size="13.4" text-anchor="middle" fill="#111" >JA/MeJA</text>
<path d="M215.6,604.7 Q240,583 281.5,582" stroke="#111" stroke-width="1.8" fill="none" marker-end="url(#ah)"/>
<path d="M215.6,673.4 Q240,692 283,694.4" stroke="#111" stroke-width="1.8" fill="none" marker-end="url(#ah)"/>
<path d="M357.6,584.6 Q400,586 424,604" stroke="#111" stroke-width="1.8" fill="none" marker-end="url(#ah)"/>
<path d="M359.6,693.9 Q400,692 423.5,673.5" stroke="#111" stroke-width="1.8" fill="none" marker-end="url(#ah)"/>
<text x="0.0" y="0.0" font-size="13.4" text-anchor="middle" fill="#111" transform="translate(239.5 587) rotate(-21)">G6PDH</text>
<text x="0.0" y="0.0" font-size="13.4" text-anchor="middle" fill="#111" transform="translate(231 699) rotate(22)">LOX</text>
<path d="M246,642.6H417.4M417.4,636.6V648.6" stroke="#111" stroke-width="1.7" fill="none"/>
<rect x="432.8" y="570.7" width="81.2" height="39.9" rx="8.5" fill="#E98C6B"/>
<rect x="435.3" y="618.7" width="80.8" height="40.3" rx="8.5" fill="#83D4DB"/>
<rect x="434" y="666.6" width="81.3" height="39.9" rx="8.5" fill="#E98C6B"/>
<text x="472.4" y="595.8" font-size="13.4" text-anchor="middle" fill="#111" >PPP</text>
<text x="474.2" y="635.5" font-size="13.4" font-weight="bold" text-anchor="middle" fill="#111" >Assimilates</text>
<text x="476.2" y="651.2" font-size="13.4" font-weight="bold" text-anchor="middle" fill="#111" >to spike</text>
<text x="473.7" y="685.2" font-size="13.4" text-anchor="middle" fill="#111" xml:space="preserve">LA &amp;  ALA</text>
<text x="475.4" y="700.5" font-size="13.4" text-anchor="middle" fill="#111" >metabolism</text>
<path d="M537.3,560.6H534.3V666.5H537.3M537.3,671.8H534.3V698.4H537.3" stroke="#E0596A" stroke-width="1.3" fill="none"/>
<text x="637.8" y="616.7" font-size="13.4" font-weight="bold" text-anchor="middle" fill="#111" >Abortive</text>
<text x="637.8" y="632.8" font-size="13.4" font-weight="bold" text-anchor="middle" fill="#111" >basal and apical</text>
<text x="639.5" y="648.4" font-size="13.4" font-weight="bold" text-anchor="middle" fill="#111" >spikelet</text>
<text x="615.7" y="706.0" font-size="13.4" text-anchor="middle" fill="#111" >Assimilates</text>
<path d="M696.4,627.1H727.1M727.1,621.7V632.3" stroke="#111" stroke-width="1.7" fill="none"/>
<rect x="730.2" y="602.8" width="67.6" height="44.8" rx="9" fill="#83D4DB"/>
<text x="763.3" y="633.0" font-size="19.5" font-weight="bold" text-anchor="middle" fill="#111" >Yield</text>
<rect x="831" y="0" width="1" height="862" fill="#000"/>
<rect x="0" y="861" width="832" height="1" fill="#000"/>
</svg></body></html>
